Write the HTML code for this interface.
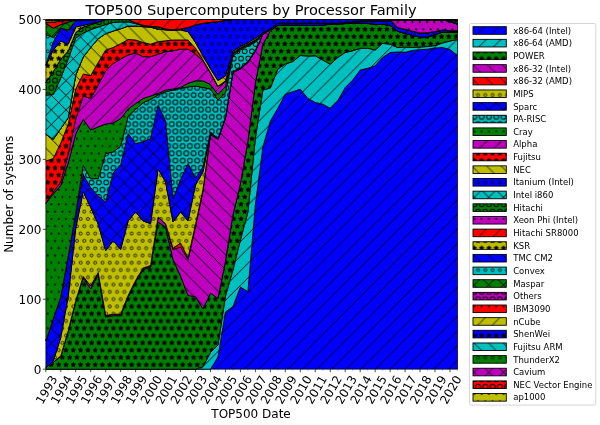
<!DOCTYPE html>
<html><head><meta charset="utf-8"><title>TOP500 Supercomputers by Processor Family</title>
<style>html,body{margin:0;padding:0;background:#fff}svg{display:block}text{font-family:"DejaVu Sans","Liberation Sans",sans-serif;fill:#000}</style></head><body>
<svg width="600" height="425" viewBox="0 0 600 425">
<rect width="600" height="425" fill="#fff"/>
<defs>
<pattern id="h_ne" patternUnits="userSpaceOnUse" x="0.30" y="0.50" width="43.750" height="43.750"><path d="M-9.58 -5.00 L-63.33 48.75" stroke="#000" stroke-width="0.90" fill="none"/><path d="M5.00 -5.00 L-48.75 48.75" stroke="#000" stroke-width="0.90" fill="none"/><path d="M19.58 -5.00 L-34.17 48.75" stroke="#000" stroke-width="0.90" fill="none"/><path d="M34.17 -5.00 L-19.58 48.75" stroke="#000" stroke-width="0.90" fill="none"/><path d="M48.75 -5.00 L-5.00 48.75" stroke="#000" stroke-width="0.90" fill="none"/><path d="M63.33 -5.00 L9.58 48.75" stroke="#000" stroke-width="0.90" fill="none"/><path d="M77.92 -5.00 L24.17 48.75" stroke="#000" stroke-width="0.90" fill="none"/><path d="M92.50 -5.00 L38.75 48.75" stroke="#000" stroke-width="0.90" fill="none"/><path d="M107.08 -5.00 L53.33 48.75" stroke="#000" stroke-width="0.90" fill="none"/></pattern>
<pattern id="h_se" patternUnits="userSpaceOnUse" x="0.30" y="0.50" width="43.750" height="43.750"><path d="M-63.33 -5.00 L-9.58 48.75" stroke="#000" stroke-width="0.90" fill="none"/><path d="M-48.75 -5.00 L5.00 48.75" stroke="#000" stroke-width="0.90" fill="none"/><path d="M-34.17 -5.00 L19.58 48.75" stroke="#000" stroke-width="0.90" fill="none"/><path d="M-19.58 -5.00 L34.17 48.75" stroke="#000" stroke-width="0.90" fill="none"/><path d="M-5.00 -5.00 L48.75 48.75" stroke="#000" stroke-width="0.90" fill="none"/><path d="M9.58 -5.00 L63.33 48.75" stroke="#000" stroke-width="0.90" fill="none"/><path d="M24.17 -5.00 L77.92 48.75" stroke="#000" stroke-width="0.90" fill="none"/><path d="M38.75 -5.00 L92.50 48.75" stroke="#000" stroke-width="0.90" fill="none"/><path d="M53.33 -5.00 L107.08 48.75" stroke="#000" stroke-width="0.90" fill="none"/></pattern>
<pattern id="h_st" patternUnits="userSpaceOnUse" x="0.40" y="0.20" width="43.750" height="43.750"><path d="M0.00 41.32L-0.71 42.77L-2.31 43.00L-1.16 44.13L-1.43 45.72L-0.00 44.97L1.43 45.72L1.16 44.13L2.31 43.00L0.71 42.77Z" fill="#000" stroke="#000" stroke-width="0.75"/><path d="M7.29 41.32L6.58 42.77L4.98 43.00L6.14 44.13L5.86 45.72L7.29 44.97L8.72 45.72L8.45 44.13L9.60 43.00L8.01 42.77Z" fill="#000" stroke="#000" stroke-width="0.75"/><path d="M14.58 41.32L13.87 42.77L12.27 43.00L13.43 44.13L13.15 45.72L14.58 44.97L16.01 45.72L15.74 44.13L16.89 43.00L15.30 42.77Z" fill="#000" stroke="#000" stroke-width="0.75"/><path d="M21.88 41.32L21.16 42.77L19.56 43.00L20.72 44.13L20.45 45.72L21.88 44.97L23.30 45.72L23.03 44.13L24.19 43.00L22.59 42.77Z" fill="#000" stroke="#000" stroke-width="0.75"/><path d="M29.17 41.32L28.45 42.77L26.86 43.00L28.01 44.13L27.74 45.72L29.17 44.97L30.60 45.72L30.32 44.13L31.48 43.00L29.88 42.77Z" fill="#000" stroke="#000" stroke-width="0.75"/><path d="M36.46 41.32L35.74 42.77L34.15 43.00L35.30 44.13L35.03 45.72L36.46 44.97L37.89 45.72L37.61 44.13L38.77 43.00L37.17 42.77Z" fill="#000" stroke="#000" stroke-width="0.75"/><path d="M43.75 41.32L43.04 42.77L41.44 43.00L42.59 44.13L42.32 45.72L43.75 44.97L45.18 45.72L44.91 44.13L46.06 43.00L44.46 42.77Z" fill="#000" stroke="#000" stroke-width="0.75"/><path d="M3.65 34.03L2.93 35.48L1.33 35.71L2.49 36.83L2.22 38.42L3.65 37.67L5.07 38.42L4.80 36.83L5.96 35.71L4.36 35.48Z" fill="#000" stroke="#000" stroke-width="0.75"/><path d="M10.94 34.03L10.22 35.48L8.63 35.71L9.78 36.83L9.51 38.42L10.94 37.67L12.37 38.42L12.09 36.83L13.25 35.71L11.65 35.48Z" fill="#000" stroke="#000" stroke-width="0.75"/><path d="M18.23 34.03L17.51 35.48L15.92 35.71L17.07 36.83L16.80 38.42L18.23 37.67L19.66 38.42L19.38 36.83L20.54 35.71L18.94 35.48Z" fill="#000" stroke="#000" stroke-width="0.75"/><path d="M25.52 34.03L24.81 35.48L23.21 35.71L24.37 36.83L24.09 38.42L25.52 37.67L26.95 38.42L26.68 36.83L27.83 35.71L26.24 35.48Z" fill="#000" stroke="#000" stroke-width="0.75"/><path d="M32.81 34.03L32.10 35.48L30.50 35.71L31.66 36.83L31.38 38.42L32.81 37.67L34.24 38.42L33.97 36.83L35.12 35.71L33.53 35.48Z" fill="#000" stroke="#000" stroke-width="0.75"/><path d="M40.10 34.03L39.39 35.48L37.79 35.71L38.95 36.83L38.68 38.42L40.10 37.67L41.53 38.42L41.26 36.83L42.42 35.71L40.82 35.48Z" fill="#000" stroke="#000" stroke-width="0.75"/><path d="M0.00 26.74L-0.71 28.18L-2.31 28.42L-1.16 29.54L-1.43 31.13L-0.00 30.38L1.43 31.13L1.16 29.54L2.31 28.42L0.71 28.18Z" fill="#000" stroke="#000" stroke-width="0.75"/><path d="M7.29 26.74L6.58 28.18L4.98 28.42L6.14 29.54L5.86 31.13L7.29 30.38L8.72 31.13L8.45 29.54L9.60 28.42L8.01 28.18Z" fill="#000" stroke="#000" stroke-width="0.75"/><path d="M14.58 26.74L13.87 28.18L12.27 28.42L13.43 29.54L13.15 31.13L14.58 30.38L16.01 31.13L15.74 29.54L16.89 28.42L15.30 28.18Z" fill="#000" stroke="#000" stroke-width="0.75"/><path d="M21.88 26.74L21.16 28.18L19.56 28.42L20.72 29.54L20.45 31.13L21.88 30.38L23.30 31.13L23.03 29.54L24.19 28.42L22.59 28.18Z" fill="#000" stroke="#000" stroke-width="0.75"/><path d="M29.17 26.74L28.45 28.18L26.86 28.42L28.01 29.54L27.74 31.13L29.17 30.38L30.60 31.13L30.32 29.54L31.48 28.42L29.88 28.18Z" fill="#000" stroke="#000" stroke-width="0.75"/><path d="M36.46 26.74L35.74 28.18L34.15 28.42L35.30 29.54L35.03 31.13L36.46 30.38L37.89 31.13L37.61 29.54L38.77 28.42L37.17 28.18Z" fill="#000" stroke="#000" stroke-width="0.75"/><path d="M43.75 26.74L43.04 28.18L41.44 28.42L42.59 29.54L42.32 31.13L43.75 30.38L45.18 31.13L44.91 29.54L46.06 28.42L44.46 28.18Z" fill="#000" stroke="#000" stroke-width="0.75"/><path d="M3.65 19.44L2.93 20.89L1.33 21.12L2.49 22.25L2.22 23.84L3.65 23.09L5.07 23.84L4.80 22.25L5.96 21.12L4.36 20.89Z" fill="#000" stroke="#000" stroke-width="0.75"/><path d="M10.94 19.44L10.22 20.89L8.63 21.12L9.78 22.25L9.51 23.84L10.94 23.09L12.37 23.84L12.09 22.25L13.25 21.12L11.65 20.89Z" fill="#000" stroke="#000" stroke-width="0.75"/><path d="M18.23 19.44L17.51 20.89L15.92 21.12L17.07 22.25L16.80 23.84L18.23 23.09L19.66 23.84L19.38 22.25L20.54 21.12L18.94 20.89Z" fill="#000" stroke="#000" stroke-width="0.75"/><path d="M25.52 19.44L24.81 20.89L23.21 21.12L24.37 22.25L24.09 23.84L25.52 23.09L26.95 23.84L26.68 22.25L27.83 21.12L26.24 20.89Z" fill="#000" stroke="#000" stroke-width="0.75"/><path d="M32.81 19.44L32.10 20.89L30.50 21.12L31.66 22.25L31.38 23.84L32.81 23.09L34.24 23.84L33.97 22.25L35.12 21.12L33.53 20.89Z" fill="#000" stroke="#000" stroke-width="0.75"/><path d="M40.10 19.44L39.39 20.89L37.79 21.12L38.95 22.25L38.68 23.84L40.10 23.09L41.53 23.84L41.26 22.25L42.42 21.12L40.82 20.89Z" fill="#000" stroke="#000" stroke-width="0.75"/><path d="M0.00 12.15L-0.71 13.60L-2.31 13.83L-1.16 14.96L-1.43 16.55L-0.00 15.80L1.43 16.55L1.16 14.96L2.31 13.83L0.71 13.60Z" fill="#000" stroke="#000" stroke-width="0.75"/><path d="M7.29 12.15L6.58 13.60L4.98 13.83L6.14 14.96L5.86 16.55L7.29 15.80L8.72 16.55L8.45 14.96L9.60 13.83L8.01 13.60Z" fill="#000" stroke="#000" stroke-width="0.75"/><path d="M14.58 12.15L13.87 13.60L12.27 13.83L13.43 14.96L13.15 16.55L14.58 15.80L16.01 16.55L15.74 14.96L16.89 13.83L15.30 13.60Z" fill="#000" stroke="#000" stroke-width="0.75"/><path d="M21.88 12.15L21.16 13.60L19.56 13.83L20.72 14.96L20.45 16.55L21.88 15.80L23.30 16.55L23.03 14.96L24.19 13.83L22.59 13.60Z" fill="#000" stroke="#000" stroke-width="0.75"/><path d="M29.17 12.15L28.45 13.60L26.86 13.83L28.01 14.96L27.74 16.55L29.17 15.80L30.60 16.55L30.32 14.96L31.48 13.83L29.88 13.60Z" fill="#000" stroke="#000" stroke-width="0.75"/><path d="M36.46 12.15L35.74 13.60L34.15 13.83L35.30 14.96L35.03 16.55L36.46 15.80L37.89 16.55L37.61 14.96L38.77 13.83L37.17 13.60Z" fill="#000" stroke="#000" stroke-width="0.75"/><path d="M43.75 12.15L43.04 13.60L41.44 13.83L42.59 14.96L42.32 16.55L43.75 15.80L45.18 16.55L44.91 14.96L46.06 13.83L44.46 13.60Z" fill="#000" stroke="#000" stroke-width="0.75"/><path d="M3.65 4.86L2.93 6.31L1.33 6.54L2.49 7.67L2.22 9.26L3.65 8.51L5.07 9.26L4.80 7.67L5.96 6.54L4.36 6.31Z" fill="#000" stroke="#000" stroke-width="0.75"/><path d="M10.94 4.86L10.22 6.31L8.63 6.54L9.78 7.67L9.51 9.26L10.94 8.51L12.37 9.26L12.09 7.67L13.25 6.54L11.65 6.31Z" fill="#000" stroke="#000" stroke-width="0.75"/><path d="M18.23 4.86L17.51 6.31L15.92 6.54L17.07 7.67L16.80 9.26L18.23 8.51L19.66 9.26L19.38 7.67L20.54 6.54L18.94 6.31Z" fill="#000" stroke="#000" stroke-width="0.75"/><path d="M25.52 4.86L24.81 6.31L23.21 6.54L24.37 7.67L24.09 9.26L25.52 8.51L26.95 9.26L26.68 7.67L27.83 6.54L26.24 6.31Z" fill="#000" stroke="#000" stroke-width="0.75"/><path d="M32.81 4.86L32.10 6.31L30.50 6.54L31.66 7.67L31.38 9.26L32.81 8.51L34.24 9.26L33.97 7.67L35.12 6.54L33.53 6.31Z" fill="#000" stroke="#000" stroke-width="0.75"/><path d="M40.10 4.86L39.39 6.31L37.79 6.54L38.95 7.67L38.68 9.26L40.10 8.51L41.53 9.26L41.26 7.67L42.42 6.54L40.82 6.31Z" fill="#000" stroke="#000" stroke-width="0.75"/><path d="M0.00 -2.43L-0.71 -0.98L-2.31 -0.75L-1.16 0.38L-1.43 1.97L-0.00 1.22L1.43 1.97L1.16 0.38L2.31 -0.75L0.71 -0.98Z" fill="#000" stroke="#000" stroke-width="0.75"/><path d="M7.29 -2.43L6.58 -0.98L4.98 -0.75L6.14 0.38L5.86 1.97L7.29 1.22L8.72 1.97L8.45 0.38L9.60 -0.75L8.01 -0.98Z" fill="#000" stroke="#000" stroke-width="0.75"/><path d="M14.58 -2.43L13.87 -0.98L12.27 -0.75L13.43 0.38L13.15 1.97L14.58 1.22L16.01 1.97L15.74 0.38L16.89 -0.75L15.30 -0.98Z" fill="#000" stroke="#000" stroke-width="0.75"/><path d="M21.88 -2.43L21.16 -0.98L19.56 -0.75L20.72 0.38L20.45 1.97L21.88 1.22L23.30 1.97L23.03 0.38L24.19 -0.75L22.59 -0.98Z" fill="#000" stroke="#000" stroke-width="0.75"/><path d="M29.17 -2.43L28.45 -0.98L26.86 -0.75L28.01 0.38L27.74 1.97L29.17 1.22L30.60 1.97L30.32 0.38L31.48 -0.75L29.88 -0.98Z" fill="#000" stroke="#000" stroke-width="0.75"/><path d="M36.46 -2.43L35.74 -0.98L34.15 -0.75L35.30 0.38L35.03 1.97L36.46 1.22L37.89 1.97L37.61 0.38L38.77 -0.75L37.17 -0.98Z" fill="#000" stroke="#000" stroke-width="0.75"/><path d="M43.75 -2.43L43.04 -0.98L41.44 -0.75L42.59 0.38L42.32 1.97L43.75 1.22L45.18 1.97L44.91 0.38L46.06 -0.75L44.46 -0.98Z" fill="#000" stroke="#000" stroke-width="0.75"/></pattern>
<pattern id="h_so" patternUnits="userSpaceOnUse" x="0.40" y="0.20" width="43.750" height="43.750"><circle cx="0.00" cy="43.75" r="1.50" fill="none" stroke="#000" stroke-width="0.80"/><circle cx="7.29" cy="43.75" r="1.50" fill="none" stroke="#000" stroke-width="0.80"/><circle cx="14.58" cy="43.75" r="1.50" fill="none" stroke="#000" stroke-width="0.80"/><circle cx="21.88" cy="43.75" r="1.50" fill="none" stroke="#000" stroke-width="0.80"/><circle cx="29.17" cy="43.75" r="1.50" fill="none" stroke="#000" stroke-width="0.80"/><circle cx="36.46" cy="43.75" r="1.50" fill="none" stroke="#000" stroke-width="0.80"/><circle cx="43.75" cy="43.75" r="1.50" fill="none" stroke="#000" stroke-width="0.80"/><circle cx="3.65" cy="36.46" r="1.50" fill="none" stroke="#000" stroke-width="0.80"/><circle cx="10.94" cy="36.46" r="1.50" fill="none" stroke="#000" stroke-width="0.80"/><circle cx="18.23" cy="36.46" r="1.50" fill="none" stroke="#000" stroke-width="0.80"/><circle cx="25.52" cy="36.46" r="1.50" fill="none" stroke="#000" stroke-width="0.80"/><circle cx="32.81" cy="36.46" r="1.50" fill="none" stroke="#000" stroke-width="0.80"/><circle cx="40.10" cy="36.46" r="1.50" fill="none" stroke="#000" stroke-width="0.80"/><circle cx="0.00" cy="29.17" r="1.50" fill="none" stroke="#000" stroke-width="0.80"/><circle cx="7.29" cy="29.17" r="1.50" fill="none" stroke="#000" stroke-width="0.80"/><circle cx="14.58" cy="29.17" r="1.50" fill="none" stroke="#000" stroke-width="0.80"/><circle cx="21.88" cy="29.17" r="1.50" fill="none" stroke="#000" stroke-width="0.80"/><circle cx="29.17" cy="29.17" r="1.50" fill="none" stroke="#000" stroke-width="0.80"/><circle cx="36.46" cy="29.17" r="1.50" fill="none" stroke="#000" stroke-width="0.80"/><circle cx="43.75" cy="29.17" r="1.50" fill="none" stroke="#000" stroke-width="0.80"/><circle cx="3.65" cy="21.88" r="1.50" fill="none" stroke="#000" stroke-width="0.80"/><circle cx="10.94" cy="21.88" r="1.50" fill="none" stroke="#000" stroke-width="0.80"/><circle cx="18.23" cy="21.88" r="1.50" fill="none" stroke="#000" stroke-width="0.80"/><circle cx="25.52" cy="21.88" r="1.50" fill="none" stroke="#000" stroke-width="0.80"/><circle cx="32.81" cy="21.88" r="1.50" fill="none" stroke="#000" stroke-width="0.80"/><circle cx="40.10" cy="21.88" r="1.50" fill="none" stroke="#000" stroke-width="0.80"/><circle cx="0.00" cy="14.58" r="1.50" fill="none" stroke="#000" stroke-width="0.80"/><circle cx="7.29" cy="14.58" r="1.50" fill="none" stroke="#000" stroke-width="0.80"/><circle cx="14.58" cy="14.58" r="1.50" fill="none" stroke="#000" stroke-width="0.80"/><circle cx="21.88" cy="14.58" r="1.50" fill="none" stroke="#000" stroke-width="0.80"/><circle cx="29.17" cy="14.58" r="1.50" fill="none" stroke="#000" stroke-width="0.80"/><circle cx="36.46" cy="14.58" r="1.50" fill="none" stroke="#000" stroke-width="0.80"/><circle cx="43.75" cy="14.58" r="1.50" fill="none" stroke="#000" stroke-width="0.80"/><circle cx="3.65" cy="7.29" r="1.50" fill="none" stroke="#000" stroke-width="0.80"/><circle cx="10.94" cy="7.29" r="1.50" fill="none" stroke="#000" stroke-width="0.80"/><circle cx="18.23" cy="7.29" r="1.50" fill="none" stroke="#000" stroke-width="0.80"/><circle cx="25.52" cy="7.29" r="1.50" fill="none" stroke="#000" stroke-width="0.80"/><circle cx="32.81" cy="7.29" r="1.50" fill="none" stroke="#000" stroke-width="0.80"/><circle cx="40.10" cy="7.29" r="1.50" fill="none" stroke="#000" stroke-width="0.80"/><circle cx="0.00" cy="0.00" r="1.50" fill="none" stroke="#000" stroke-width="0.80"/><circle cx="7.29" cy="0.00" r="1.50" fill="none" stroke="#000" stroke-width="0.80"/><circle cx="14.58" cy="0.00" r="1.50" fill="none" stroke="#000" stroke-width="0.80"/><circle cx="21.88" cy="0.00" r="1.50" fill="none" stroke="#000" stroke-width="0.80"/><circle cx="29.17" cy="0.00" r="1.50" fill="none" stroke="#000" stroke-width="0.80"/><circle cx="36.46" cy="0.00" r="1.50" fill="none" stroke="#000" stroke-width="0.80"/><circle cx="43.75" cy="0.00" r="1.50" fill="none" stroke="#000" stroke-width="0.80"/></pattern>
<pattern id="h_xx" patternUnits="userSpaceOnUse" x="0.30" y="0.50" width="43.750" height="43.750"><path d="M-9.58 -5.00 L-63.33 48.75" stroke="#000" stroke-width="0.90" fill="none"/><path d="M5.00 -5.00 L-48.75 48.75" stroke="#000" stroke-width="0.90" fill="none"/><path d="M19.58 -5.00 L-34.17 48.75" stroke="#000" stroke-width="0.90" fill="none"/><path d="M34.17 -5.00 L-19.58 48.75" stroke="#000" stroke-width="0.90" fill="none"/><path d="M48.75 -5.00 L-5.00 48.75" stroke="#000" stroke-width="0.90" fill="none"/><path d="M63.33 -5.00 L9.58 48.75" stroke="#000" stroke-width="0.90" fill="none"/><path d="M77.92 -5.00 L24.17 48.75" stroke="#000" stroke-width="0.90" fill="none"/><path d="M92.50 -5.00 L38.75 48.75" stroke="#000" stroke-width="0.90" fill="none"/><path d="M107.08 -5.00 L53.33 48.75" stroke="#000" stroke-width="0.90" fill="none"/><path d="M-63.33 -5.00 L-9.58 48.75" stroke="#000" stroke-width="0.90" fill="none"/><path d="M-48.75 -5.00 L5.00 48.75" stroke="#000" stroke-width="0.90" fill="none"/><path d="M-34.17 -5.00 L19.58 48.75" stroke="#000" stroke-width="0.90" fill="none"/><path d="M-19.58 -5.00 L34.17 48.75" stroke="#000" stroke-width="0.90" fill="none"/><path d="M-5.00 -5.00 L48.75 48.75" stroke="#000" stroke-width="0.90" fill="none"/><path d="M9.58 -5.00 L63.33 48.75" stroke="#000" stroke-width="0.90" fill="none"/><path d="M24.17 -5.00 L77.92 48.75" stroke="#000" stroke-width="0.90" fill="none"/><path d="M38.75 -5.00 L92.50 48.75" stroke="#000" stroke-width="0.90" fill="none"/><path d="M53.33 -5.00 L107.08 48.75" stroke="#000" stroke-width="0.90" fill="none"/></pattern>
<pattern id="h_lo" patternUnits="userSpaceOnUse" x="0.40" y="0.20" width="43.750" height="43.750"><circle cx="0.00" cy="43.75" r="2.42" fill="none" stroke="#000" stroke-width="1.00"/><circle cx="7.29" cy="43.75" r="2.42" fill="none" stroke="#000" stroke-width="1.00"/><circle cx="14.58" cy="43.75" r="2.42" fill="none" stroke="#000" stroke-width="1.00"/><circle cx="21.88" cy="43.75" r="2.42" fill="none" stroke="#000" stroke-width="1.00"/><circle cx="29.17" cy="43.75" r="2.42" fill="none" stroke="#000" stroke-width="1.00"/><circle cx="36.46" cy="43.75" r="2.42" fill="none" stroke="#000" stroke-width="1.00"/><circle cx="43.75" cy="43.75" r="2.42" fill="none" stroke="#000" stroke-width="1.00"/><circle cx="3.65" cy="36.46" r="2.42" fill="none" stroke="#000" stroke-width="1.00"/><circle cx="10.94" cy="36.46" r="2.42" fill="none" stroke="#000" stroke-width="1.00"/><circle cx="18.23" cy="36.46" r="2.42" fill="none" stroke="#000" stroke-width="1.00"/><circle cx="25.52" cy="36.46" r="2.42" fill="none" stroke="#000" stroke-width="1.00"/><circle cx="32.81" cy="36.46" r="2.42" fill="none" stroke="#000" stroke-width="1.00"/><circle cx="40.10" cy="36.46" r="2.42" fill="none" stroke="#000" stroke-width="1.00"/><circle cx="0.00" cy="29.17" r="2.42" fill="none" stroke="#000" stroke-width="1.00"/><circle cx="7.29" cy="29.17" r="2.42" fill="none" stroke="#000" stroke-width="1.00"/><circle cx="14.58" cy="29.17" r="2.42" fill="none" stroke="#000" stroke-width="1.00"/><circle cx="21.88" cy="29.17" r="2.42" fill="none" stroke="#000" stroke-width="1.00"/><circle cx="29.17" cy="29.17" r="2.42" fill="none" stroke="#000" stroke-width="1.00"/><circle cx="36.46" cy="29.17" r="2.42" fill="none" stroke="#000" stroke-width="1.00"/><circle cx="43.75" cy="29.17" r="2.42" fill="none" stroke="#000" stroke-width="1.00"/><circle cx="3.65" cy="21.88" r="2.42" fill="none" stroke="#000" stroke-width="1.00"/><circle cx="10.94" cy="21.88" r="2.42" fill="none" stroke="#000" stroke-width="1.00"/><circle cx="18.23" cy="21.88" r="2.42" fill="none" stroke="#000" stroke-width="1.00"/><circle cx="25.52" cy="21.88" r="2.42" fill="none" stroke="#000" stroke-width="1.00"/><circle cx="32.81" cy="21.88" r="2.42" fill="none" stroke="#000" stroke-width="1.00"/><circle cx="40.10" cy="21.88" r="2.42" fill="none" stroke="#000" stroke-width="1.00"/><circle cx="0.00" cy="14.58" r="2.42" fill="none" stroke="#000" stroke-width="1.00"/><circle cx="7.29" cy="14.58" r="2.42" fill="none" stroke="#000" stroke-width="1.00"/><circle cx="14.58" cy="14.58" r="2.42" fill="none" stroke="#000" stroke-width="1.00"/><circle cx="21.88" cy="14.58" r="2.42" fill="none" stroke="#000" stroke-width="1.00"/><circle cx="29.17" cy="14.58" r="2.42" fill="none" stroke="#000" stroke-width="1.00"/><circle cx="36.46" cy="14.58" r="2.42" fill="none" stroke="#000" stroke-width="1.00"/><circle cx="43.75" cy="14.58" r="2.42" fill="none" stroke="#000" stroke-width="1.00"/><circle cx="3.65" cy="7.29" r="2.42" fill="none" stroke="#000" stroke-width="1.00"/><circle cx="10.94" cy="7.29" r="2.42" fill="none" stroke="#000" stroke-width="1.00"/><circle cx="18.23" cy="7.29" r="2.42" fill="none" stroke="#000" stroke-width="1.00"/><circle cx="25.52" cy="7.29" r="2.42" fill="none" stroke="#000" stroke-width="1.00"/><circle cx="32.81" cy="7.29" r="2.42" fill="none" stroke="#000" stroke-width="1.00"/><circle cx="40.10" cy="7.29" r="2.42" fill="none" stroke="#000" stroke-width="1.00"/><circle cx="0.00" cy="0.00" r="2.42" fill="none" stroke="#000" stroke-width="1.00"/><circle cx="7.29" cy="0.00" r="2.42" fill="none" stroke="#000" stroke-width="1.00"/><circle cx="14.58" cy="0.00" r="2.42" fill="none" stroke="#000" stroke-width="1.00"/><circle cx="21.88" cy="0.00" r="2.42" fill="none" stroke="#000" stroke-width="1.00"/><circle cx="29.17" cy="0.00" r="2.42" fill="none" stroke="#000" stroke-width="1.00"/><circle cx="36.46" cy="0.00" r="2.42" fill="none" stroke="#000" stroke-width="1.00"/><circle cx="43.75" cy="0.00" r="2.42" fill="none" stroke="#000" stroke-width="1.00"/></pattern>
<pattern id="h_dt" patternUnits="userSpaceOnUse" x="0.40" y="0.20" width="43.750" height="43.750"><circle cx="0.00" cy="43.75" r="0.73" fill="#000" stroke="#000" stroke-width="0.60"/><circle cx="7.29" cy="43.75" r="0.73" fill="#000" stroke="#000" stroke-width="0.60"/><circle cx="14.58" cy="43.75" r="0.73" fill="#000" stroke="#000" stroke-width="0.60"/><circle cx="21.88" cy="43.75" r="0.73" fill="#000" stroke="#000" stroke-width="0.60"/><circle cx="29.17" cy="43.75" r="0.73" fill="#000" stroke="#000" stroke-width="0.60"/><circle cx="36.46" cy="43.75" r="0.73" fill="#000" stroke="#000" stroke-width="0.60"/><circle cx="43.75" cy="43.75" r="0.73" fill="#000" stroke="#000" stroke-width="0.60"/><circle cx="3.65" cy="36.46" r="0.73" fill="#000" stroke="#000" stroke-width="0.60"/><circle cx="10.94" cy="36.46" r="0.73" fill="#000" stroke="#000" stroke-width="0.60"/><circle cx="18.23" cy="36.46" r="0.73" fill="#000" stroke="#000" stroke-width="0.60"/><circle cx="25.52" cy="36.46" r="0.73" fill="#000" stroke="#000" stroke-width="0.60"/><circle cx="32.81" cy="36.46" r="0.73" fill="#000" stroke="#000" stroke-width="0.60"/><circle cx="40.10" cy="36.46" r="0.73" fill="#000" stroke="#000" stroke-width="0.60"/><circle cx="0.00" cy="29.17" r="0.73" fill="#000" stroke="#000" stroke-width="0.60"/><circle cx="7.29" cy="29.17" r="0.73" fill="#000" stroke="#000" stroke-width="0.60"/><circle cx="14.58" cy="29.17" r="0.73" fill="#000" stroke="#000" stroke-width="0.60"/><circle cx="21.88" cy="29.17" r="0.73" fill="#000" stroke="#000" stroke-width="0.60"/><circle cx="29.17" cy="29.17" r="0.73" fill="#000" stroke="#000" stroke-width="0.60"/><circle cx="36.46" cy="29.17" r="0.73" fill="#000" stroke="#000" stroke-width="0.60"/><circle cx="43.75" cy="29.17" r="0.73" fill="#000" stroke="#000" stroke-width="0.60"/><circle cx="3.65" cy="21.88" r="0.73" fill="#000" stroke="#000" stroke-width="0.60"/><circle cx="10.94" cy="21.88" r="0.73" fill="#000" stroke="#000" stroke-width="0.60"/><circle cx="18.23" cy="21.88" r="0.73" fill="#000" stroke="#000" stroke-width="0.60"/><circle cx="25.52" cy="21.88" r="0.73" fill="#000" stroke="#000" stroke-width="0.60"/><circle cx="32.81" cy="21.88" r="0.73" fill="#000" stroke="#000" stroke-width="0.60"/><circle cx="40.10" cy="21.88" r="0.73" fill="#000" stroke="#000" stroke-width="0.60"/><circle cx="0.00" cy="14.58" r="0.73" fill="#000" stroke="#000" stroke-width="0.60"/><circle cx="7.29" cy="14.58" r="0.73" fill="#000" stroke="#000" stroke-width="0.60"/><circle cx="14.58" cy="14.58" r="0.73" fill="#000" stroke="#000" stroke-width="0.60"/><circle cx="21.88" cy="14.58" r="0.73" fill="#000" stroke="#000" stroke-width="0.60"/><circle cx="29.17" cy="14.58" r="0.73" fill="#000" stroke="#000" stroke-width="0.60"/><circle cx="36.46" cy="14.58" r="0.73" fill="#000" stroke="#000" stroke-width="0.60"/><circle cx="43.75" cy="14.58" r="0.73" fill="#000" stroke="#000" stroke-width="0.60"/><circle cx="3.65" cy="7.29" r="0.73" fill="#000" stroke="#000" stroke-width="0.60"/><circle cx="10.94" cy="7.29" r="0.73" fill="#000" stroke="#000" stroke-width="0.60"/><circle cx="18.23" cy="7.29" r="0.73" fill="#000" stroke="#000" stroke-width="0.60"/><circle cx="25.52" cy="7.29" r="0.73" fill="#000" stroke="#000" stroke-width="0.60"/><circle cx="32.81" cy="7.29" r="0.73" fill="#000" stroke="#000" stroke-width="0.60"/><circle cx="40.10" cy="7.29" r="0.73" fill="#000" stroke="#000" stroke-width="0.60"/><circle cx="0.00" cy="0.00" r="0.73" fill="#000" stroke="#000" stroke-width="0.60"/><circle cx="7.29" cy="0.00" r="0.73" fill="#000" stroke="#000" stroke-width="0.60"/><circle cx="14.58" cy="0.00" r="0.73" fill="#000" stroke="#000" stroke-width="0.60"/><circle cx="21.88" cy="0.00" r="0.73" fill="#000" stroke="#000" stroke-width="0.60"/><circle cx="29.17" cy="0.00" r="0.73" fill="#000" stroke="#000" stroke-width="0.60"/><circle cx="36.46" cy="0.00" r="0.73" fill="#000" stroke="#000" stroke-width="0.60"/><circle cx="43.75" cy="0.00" r="0.73" fill="#000" stroke="#000" stroke-width="0.60"/></pattern>
<clipPath id="ax"><rect x="45.30" y="18.90" width="412.55" height="350.80"/></clipPath>
</defs>
<g clip-path="url(#ax)" stroke-linejoin="round">
<path d="M45.80 369.20L53.29 369.20L60.77 369.20L68.26 369.20L75.74 369.20L83.23 369.20L90.71 369.20L98.20 369.20L105.68 369.20L113.17 369.20L120.65 369.20L128.14 369.20L135.63 369.20L143.11 369.20L150.60 369.20L158.08 369.20L165.57 369.20L173.05 369.20L180.54 369.20L188.02 369.20L195.51 369.20L202.99 369.20L210.48 369.20L217.97 357.00L225.45 312.00L232.94 306.50L240.42 287.10L247.91 291.50L255.39 204.50L262.88 147.00L270.36 121.00L277.85 108.30L285.33 94.20L292.82 91.70L300.31 89.20L307.79 98.30L315.28 102.50L322.76 104.20L330.25 108.30L337.73 100.80L345.22 87.50L352.70 80.00L360.19 70.00L367.67 68.30L375.16 65.80L382.65 57.50L390.13 52.50L397.62 52.00L405.10 52.30L412.59 50.40L420.07 49.70L427.56 49.20L435.04 48.00L442.53 47.50L450.01 49.50L457.50 55.50L457.50 369.20L450.01 369.20L442.53 369.20L435.04 369.20L427.56 369.20L420.07 369.20L412.59 369.20L405.10 369.20L397.62 369.20L390.13 369.20L382.65 369.20L375.16 369.20L367.67 369.20L360.19 369.20L352.70 369.20L345.22 369.20L337.73 369.20L330.25 369.20L322.76 369.20L315.28 369.20L307.79 369.20L300.31 369.20L292.82 369.20L285.33 369.20L277.85 369.20L270.36 369.20L262.88 369.20L255.39 369.20L247.91 369.20L240.42 369.20L232.94 369.20L225.45 369.20L217.97 369.20L210.48 369.20L202.99 369.20L195.51 369.20L188.02 369.20L180.54 369.20L173.05 369.20L165.57 369.20L158.08 369.20L150.60 369.20L143.11 369.20L135.63 369.20L128.14 369.20L120.65 369.20L113.17 369.20L105.68 369.20L98.20 369.20L90.71 369.20L83.23 369.20L75.74 369.20L68.26 369.20L60.77 369.20L53.29 369.20L45.80 369.20Z" fill="#0000ff" stroke="none"/>
<path d="M45.80 369.20L53.29 369.20L60.77 369.20L68.26 369.20L75.74 369.20L83.23 369.20L90.71 369.20L98.20 369.20L105.68 369.20L113.17 369.20L120.65 369.20L128.14 369.20L135.63 369.20L143.11 369.20L150.60 369.20L158.08 369.20L165.57 369.20L173.05 369.20L180.54 369.20L188.02 369.20L195.51 369.20L202.99 369.20L210.48 369.20L217.97 357.00L225.45 312.00L232.94 306.50L240.42 287.10L247.91 291.50L255.39 204.50L262.88 147.00L270.36 121.00L277.85 108.30L285.33 94.20L292.82 91.70L300.31 89.20L307.79 98.30L315.28 102.50L322.76 104.20L330.25 108.30L337.73 100.80L345.22 87.50L352.70 80.00L360.19 70.00L367.67 68.30L375.16 65.80L382.65 57.50L390.13 52.50L397.62 52.00L405.10 52.30L412.59 50.40L420.07 49.70L427.56 49.20L435.04 48.00L442.53 47.50L450.01 49.50L457.50 55.50L457.50 369.20L450.01 369.20L442.53 369.20L435.04 369.20L427.56 369.20L420.07 369.20L412.59 369.20L405.10 369.20L397.62 369.20L390.13 369.20L382.65 369.20L375.16 369.20L367.67 369.20L360.19 369.20L352.70 369.20L345.22 369.20L337.73 369.20L330.25 369.20L322.76 369.20L315.28 369.20L307.79 369.20L300.31 369.20L292.82 369.20L285.33 369.20L277.85 369.20L270.36 369.20L262.88 369.20L255.39 369.20L247.91 369.20L240.42 369.20L232.94 369.20L225.45 369.20L217.97 369.20L210.48 369.20L202.99 369.20L195.51 369.20L188.02 369.20L180.54 369.20L173.05 369.20L165.57 369.20L158.08 369.20L150.60 369.20L143.11 369.20L135.63 369.20L128.14 369.20L120.65 369.20L113.17 369.20L105.68 369.20L98.20 369.20L90.71 369.20L83.23 369.20L75.74 369.20L68.26 369.20L60.77 369.20L53.29 369.20L45.80 369.20Z" fill="url(#h_ne)" stroke="#000" stroke-width="0.9"/>
<path d="M45.80 369.20L53.29 369.20L60.77 369.20L68.26 369.20L75.74 369.20L83.23 369.20L90.71 369.20L98.20 369.20L105.68 369.20L113.17 369.20L120.65 369.20L128.14 369.20L135.63 369.20L143.11 369.20L150.60 369.20L158.08 369.20L165.57 369.20L173.05 369.20L180.54 369.20L188.02 369.20L195.51 369.20L202.99 366.60L210.48 352.50L217.97 345.00L225.45 296.20L232.94 270.00L240.42 240.00L247.91 212.00L255.39 138.00L262.88 90.00L270.36 88.00L277.85 69.00L285.33 64.00L292.82 61.50L300.31 55.50L307.79 56.00L315.28 55.80L322.76 60.00L330.25 64.20L337.73 57.50L345.22 52.50L352.70 50.80L360.19 48.30L367.67 48.30L375.16 50.00L382.65 43.30L390.13 44.20L397.62 47.50L405.10 47.00L412.59 47.50L420.07 47.00L427.56 46.50L435.04 45.50L442.53 43.00L450.01 41.00L457.50 39.50L457.50 55.50L450.01 49.50L442.53 47.50L435.04 48.00L427.56 49.20L420.07 49.70L412.59 50.40L405.10 52.30L397.62 52.00L390.13 52.50L382.65 57.50L375.16 65.80L367.67 68.30L360.19 70.00L352.70 80.00L345.22 87.50L337.73 100.80L330.25 108.30L322.76 104.20L315.28 102.50L307.79 98.30L300.31 89.20L292.82 91.70L285.33 94.20L277.85 108.30L270.36 121.00L262.88 147.00L255.39 204.50L247.91 291.50L240.42 287.10L232.94 306.50L225.45 312.00L217.97 357.00L210.48 369.20L202.99 369.20L195.51 369.20L188.02 369.20L180.54 369.20L173.05 369.20L165.57 369.20L158.08 369.20L150.60 369.20L143.11 369.20L135.63 369.20L128.14 369.20L120.65 369.20L113.17 369.20L105.68 369.20L98.20 369.20L90.71 369.20L83.23 369.20L75.74 369.20L68.26 369.20L60.77 369.20L53.29 369.20L45.80 369.20Z" fill="#00bfbf" stroke="none"/>
<path d="M45.80 369.20L53.29 369.20L60.77 369.20L68.26 369.20L75.74 369.20L83.23 369.20L90.71 369.20L98.20 369.20L105.68 369.20L113.17 369.20L120.65 369.20L128.14 369.20L135.63 369.20L143.11 369.20L150.60 369.20L158.08 369.20L165.57 369.20L173.05 369.20L180.54 369.20L188.02 369.20L195.51 369.20L202.99 366.60L210.48 352.50L217.97 345.00L225.45 296.20L232.94 270.00L240.42 240.00L247.91 212.00L255.39 138.00L262.88 90.00L270.36 88.00L277.85 69.00L285.33 64.00L292.82 61.50L300.31 55.50L307.79 56.00L315.28 55.80L322.76 60.00L330.25 64.20L337.73 57.50L345.22 52.50L352.70 50.80L360.19 48.30L367.67 48.30L375.16 50.00L382.65 43.30L390.13 44.20L397.62 47.50L405.10 47.00L412.59 47.50L420.07 47.00L427.56 46.50L435.04 45.50L442.53 43.00L450.01 41.00L457.50 39.50L457.50 55.50L450.01 49.50L442.53 47.50L435.04 48.00L427.56 49.20L420.07 49.70L412.59 50.40L405.10 52.30L397.62 52.00L390.13 52.50L382.65 57.50L375.16 65.80L367.67 68.30L360.19 70.00L352.70 80.00L345.22 87.50L337.73 100.80L330.25 108.30L322.76 104.20L315.28 102.50L307.79 98.30L300.31 89.20L292.82 91.70L285.33 94.20L277.85 108.30L270.36 121.00L262.88 147.00L255.39 204.50L247.91 291.50L240.42 287.10L232.94 306.50L225.45 312.00L217.97 357.00L210.48 369.20L202.99 369.20L195.51 369.20L188.02 369.20L180.54 369.20L173.05 369.20L165.57 369.20L158.08 369.20L150.60 369.20L143.11 369.20L135.63 369.20L128.14 369.20L120.65 369.20L113.17 369.20L105.68 369.20L98.20 369.20L90.71 369.20L83.23 369.20L75.74 369.20L68.26 369.20L60.77 369.20L53.29 369.20L45.80 369.20Z" fill="url(#h_ne)" stroke="#000" stroke-width="0.9"/>
<path d="M45.80 367.50L53.29 362.00L60.77 356.60L68.26 331.50L75.74 301.60L83.23 278.00L90.71 289.00L98.20 274.50L105.68 317.00L113.17 315.70L120.65 315.70L128.14 297.00L135.63 282.00L143.11 269.50L150.60 267.00L158.08 222.00L165.57 227.00L173.05 259.50L180.54 276.00L188.02 295.50L195.51 296.50L202.99 309.00L210.48 293.00L217.97 298.50L225.45 261.00L232.94 215.00L240.42 184.00L247.91 141.00L255.39 83.00L262.88 44.20L270.36 31.00L277.85 25.30L285.33 25.00L292.82 25.00L300.31 25.00L307.79 25.20L315.28 25.30L322.76 25.00L330.25 24.20L337.73 24.00L345.22 23.50L352.70 22.80L360.19 23.00L367.67 23.20L375.16 24.60L382.65 24.20L390.13 25.40L397.62 31.20L405.10 33.30L412.59 35.40L420.07 37.00L427.56 37.00L435.04 34.50L442.53 32.00L450.01 31.80L457.50 32.00L457.50 39.50L450.01 41.00L442.53 43.00L435.04 45.50L427.56 46.50L420.07 47.00L412.59 47.50L405.10 47.00L397.62 47.50L390.13 44.20L382.65 43.30L375.16 50.00L367.67 48.30L360.19 48.30L352.70 50.80L345.22 52.50L337.73 57.50L330.25 64.20L322.76 60.00L315.28 55.80L307.79 56.00L300.31 55.50L292.82 61.50L285.33 64.00L277.85 69.00L270.36 88.00L262.88 90.00L255.39 138.00L247.91 212.00L240.42 240.00L232.94 270.00L225.45 296.20L217.97 345.00L210.48 352.50L202.99 366.60L195.51 369.20L188.02 369.20L180.54 369.20L173.05 369.20L165.57 369.20L158.08 369.20L150.60 369.20L143.11 369.20L135.63 369.20L128.14 369.20L120.65 369.20L113.17 369.20L105.68 369.20L98.20 369.20L90.71 369.20L83.23 369.20L75.74 369.20L68.26 369.20L60.77 369.20L53.29 369.20L45.80 369.20Z" fill="#008000" stroke="none"/>
<path d="M45.80 367.50L53.29 362.00L60.77 356.60L68.26 331.50L75.74 301.60L83.23 278.00L90.71 289.00L98.20 274.50L105.68 317.00L113.17 315.70L120.65 315.70L128.14 297.00L135.63 282.00L143.11 269.50L150.60 267.00L158.08 222.00L165.57 227.00L173.05 259.50L180.54 276.00L188.02 295.50L195.51 296.50L202.99 309.00L210.48 293.00L217.97 298.50L225.45 261.00L232.94 215.00L240.42 184.00L247.91 141.00L255.39 83.00L262.88 44.20L270.36 31.00L277.85 25.30L285.33 25.00L292.82 25.00L300.31 25.00L307.79 25.20L315.28 25.30L322.76 25.00L330.25 24.20L337.73 24.00L345.22 23.50L352.70 22.80L360.19 23.00L367.67 23.20L375.16 24.60L382.65 24.20L390.13 25.40L397.62 31.20L405.10 33.30L412.59 35.40L420.07 37.00L427.56 37.00L435.04 34.50L442.53 32.00L450.01 31.80L457.50 32.00L457.50 39.50L450.01 41.00L442.53 43.00L435.04 45.50L427.56 46.50L420.07 47.00L412.59 47.50L405.10 47.00L397.62 47.50L390.13 44.20L382.65 43.30L375.16 50.00L367.67 48.30L360.19 48.30L352.70 50.80L345.22 52.50L337.73 57.50L330.25 64.20L322.76 60.00L315.28 55.80L307.79 56.00L300.31 55.50L292.82 61.50L285.33 64.00L277.85 69.00L270.36 88.00L262.88 90.00L255.39 138.00L247.91 212.00L240.42 240.00L232.94 270.00L225.45 296.20L217.97 345.00L210.48 352.50L202.99 366.60L195.51 369.20L188.02 369.20L180.54 369.20L173.05 369.20L165.57 369.20L158.08 369.20L150.60 369.20L143.11 369.20L135.63 369.20L128.14 369.20L120.65 369.20L113.17 369.20L105.68 369.20L98.20 369.20L90.71 369.20L83.23 369.20L75.74 369.20L68.26 369.20L60.77 369.20L53.29 369.20L45.80 369.20Z" fill="url(#h_st)" stroke="#000" stroke-width="0.9"/>
<path d="M45.80 367.50L53.29 362.00L60.77 355.90L68.26 330.60L75.74 300.70L83.23 276.50L90.71 286.00L98.20 272.50L105.68 315.50L113.17 314.20L120.65 314.20L128.14 295.50L135.63 280.50L143.11 268.00L150.60 265.50L158.08 217.00L165.57 223.70L173.05 249.50L180.54 247.00L188.02 259.50L195.51 226.00L202.99 191.00L210.48 134.50L217.97 139.50L225.45 118.00L232.94 72.40L240.42 68.80L247.91 62.50L255.39 51.00L262.88 34.50L270.36 29.40L277.85 25.20L285.33 24.80L292.82 25.00L300.31 25.00L307.79 25.20L315.28 25.30L322.76 25.00L330.25 24.20L337.73 24.00L345.22 23.50L352.70 22.80L360.19 23.00L367.67 23.20L375.16 24.60L382.65 24.20L390.13 25.40L397.62 31.20L405.10 33.30L412.59 35.40L420.07 37.00L427.56 37.00L435.04 34.50L442.53 32.00L450.01 31.80L457.50 32.00L457.50 32.00L450.01 31.80L442.53 32.00L435.04 34.50L427.56 37.00L420.07 37.00L412.59 35.40L405.10 33.30L397.62 31.20L390.13 25.40L382.65 24.20L375.16 24.60L367.67 23.20L360.19 23.00L352.70 22.80L345.22 23.50L337.73 24.00L330.25 24.20L322.76 25.00L315.28 25.30L307.79 25.20L300.31 25.00L292.82 25.00L285.33 25.00L277.85 25.30L270.36 31.00L262.88 44.20L255.39 83.00L247.91 141.00L240.42 184.00L232.94 215.00L225.45 261.00L217.97 298.50L210.48 293.00L202.99 309.00L195.51 296.50L188.02 295.50L180.54 276.00L173.05 259.50L165.57 227.00L158.08 222.00L150.60 267.00L143.11 269.50L135.63 282.00L128.14 297.00L120.65 315.70L113.17 315.70L105.68 317.00L98.20 274.50L90.71 289.00L83.23 278.00L75.74 301.60L68.26 331.50L60.77 356.60L53.29 362.00L45.80 367.50Z" fill="#bf00bf" stroke="none"/>
<path d="M45.80 367.50L53.29 362.00L60.77 355.90L68.26 330.60L75.74 300.70L83.23 276.50L90.71 286.00L98.20 272.50L105.68 315.50L113.17 314.20L120.65 314.20L128.14 295.50L135.63 280.50L143.11 268.00L150.60 265.50L158.08 217.00L165.57 223.70L173.05 249.50L180.54 247.00L188.02 259.50L195.51 226.00L202.99 191.00L210.48 134.50L217.97 139.50L225.45 118.00L232.94 72.40L240.42 68.80L247.91 62.50L255.39 51.00L262.88 34.50L270.36 29.40L277.85 25.20L285.33 24.80L292.82 25.00L300.31 25.00L307.79 25.20L315.28 25.30L322.76 25.00L330.25 24.20L337.73 24.00L345.22 23.50L352.70 22.80L360.19 23.00L367.67 23.20L375.16 24.60L382.65 24.20L390.13 25.40L397.62 31.20L405.10 33.30L412.59 35.40L420.07 37.00L427.56 37.00L435.04 34.50L442.53 32.00L450.01 31.80L457.50 32.00L457.50 32.00L450.01 31.80L442.53 32.00L435.04 34.50L427.56 37.00L420.07 37.00L412.59 35.40L405.10 33.30L397.62 31.20L390.13 25.40L382.65 24.20L375.16 24.60L367.67 23.20L360.19 23.00L352.70 22.80L345.22 23.50L337.73 24.00L330.25 24.20L322.76 25.00L315.28 25.30L307.79 25.20L300.31 25.00L292.82 25.00L285.33 25.00L277.85 25.30L270.36 31.00L262.88 44.20L255.39 83.00L247.91 141.00L240.42 184.00L232.94 215.00L225.45 261.00L217.97 298.50L210.48 293.00L202.99 309.00L195.51 296.50L188.02 295.50L180.54 276.00L173.05 259.50L165.57 227.00L158.08 222.00L150.60 267.00L143.11 269.50L135.63 282.00L128.14 297.00L120.65 315.70L113.17 315.70L105.68 317.00L98.20 274.50L90.71 289.00L83.23 278.00L75.74 301.60L68.26 331.50L60.77 356.60L53.29 362.00L45.80 367.50Z" fill="url(#h_se)" stroke="#000" stroke-width="0.9"/>
<path d="M45.80 367.50L53.29 362.00L60.77 355.90L68.26 330.60L75.74 300.70L83.23 276.50L90.71 286.00L98.20 272.50L105.68 315.50L113.17 314.20L120.65 314.20L128.14 295.50L135.63 280.50L143.11 268.00L150.60 265.50L158.08 217.00L165.57 223.70L173.05 248.30L180.54 243.00L188.02 258.00L195.51 224.50L202.99 189.50L210.48 133.30L217.97 139.50L225.45 118.00L232.94 72.40L240.42 68.80L247.91 62.50L255.39 51.00L262.88 34.50L270.36 29.40L277.85 25.20L285.33 24.80L292.82 25.00L300.31 25.00L307.79 25.20L315.28 25.30L322.76 25.00L330.25 24.20L337.73 24.00L345.22 23.50L352.70 22.80L360.19 23.00L367.67 23.20L375.16 24.60L382.65 24.20L390.13 25.40L397.62 31.20L405.10 33.30L412.59 35.40L420.07 37.00L427.56 37.00L435.04 34.50L442.53 32.00L450.01 31.80L457.50 32.00L457.50 32.00L450.01 31.80L442.53 32.00L435.04 34.50L427.56 37.00L420.07 37.00L412.59 35.40L405.10 33.30L397.62 31.20L390.13 25.40L382.65 24.20L375.16 24.60L367.67 23.20L360.19 23.00L352.70 22.80L345.22 23.50L337.73 24.00L330.25 24.20L322.76 25.00L315.28 25.30L307.79 25.20L300.31 25.00L292.82 25.00L285.33 24.80L277.85 25.20L270.36 29.40L262.88 34.50L255.39 51.00L247.91 62.50L240.42 68.80L232.94 72.40L225.45 118.00L217.97 139.50L210.48 134.50L202.99 191.00L195.51 226.00L188.02 259.50L180.54 247.00L173.05 249.50L165.57 223.70L158.08 217.00L150.60 265.50L143.11 268.00L135.63 280.50L128.14 295.50L120.65 314.20L113.17 314.20L105.68 315.50L98.20 272.50L90.71 286.00L83.23 276.50L75.74 300.70L68.26 330.60L60.77 355.90L53.29 362.00L45.80 367.50Z" fill="#ff0000" stroke="none"/>
<path d="M45.80 367.50L53.29 362.00L60.77 355.90L68.26 330.60L75.74 300.70L83.23 276.50L90.71 286.00L98.20 272.50L105.68 315.50L113.17 314.20L120.65 314.20L128.14 295.50L135.63 280.50L143.11 268.00L150.60 265.50L158.08 217.00L165.57 223.70L173.05 248.30L180.54 243.00L188.02 258.00L195.51 224.50L202.99 189.50L210.48 133.30L217.97 139.50L225.45 118.00L232.94 72.40L240.42 68.80L247.91 62.50L255.39 51.00L262.88 34.50L270.36 29.40L277.85 25.20L285.33 24.80L292.82 25.00L300.31 25.00L307.79 25.20L315.28 25.30L322.76 25.00L330.25 24.20L337.73 24.00L345.22 23.50L352.70 22.80L360.19 23.00L367.67 23.20L375.16 24.60L382.65 24.20L390.13 25.40L397.62 31.20L405.10 33.30L412.59 35.40L420.07 37.00L427.56 37.00L435.04 34.50L442.53 32.00L450.01 31.80L457.50 32.00L457.50 32.00L450.01 31.80L442.53 32.00L435.04 34.50L427.56 37.00L420.07 37.00L412.59 35.40L405.10 33.30L397.62 31.20L390.13 25.40L382.65 24.20L375.16 24.60L367.67 23.20L360.19 23.00L352.70 22.80L345.22 23.50L337.73 24.00L330.25 24.20L322.76 25.00L315.28 25.30L307.79 25.20L300.31 25.00L292.82 25.00L285.33 24.80L277.85 25.20L270.36 29.40L262.88 34.50L255.39 51.00L247.91 62.50L240.42 68.80L232.94 72.40L225.45 118.00L217.97 139.50L210.48 134.50L202.99 191.00L195.51 226.00L188.02 259.50L180.54 247.00L173.05 249.50L165.57 223.70L158.08 217.00L150.60 265.50L143.11 268.00L135.63 280.50L128.14 295.50L120.65 314.20L113.17 314.20L105.68 315.50L98.20 272.50L90.71 286.00L83.23 276.50L75.74 300.70L68.26 330.60L60.77 355.90L53.29 362.00L45.80 367.50Z" fill="url(#h_se)" stroke="#000" stroke-width="0.9"/>
<path d="M45.80 367.50L53.29 361.00L60.77 337.50L68.26 296.00L75.74 228.00L83.23 191.50L90.71 207.50L98.20 224.00L105.68 250.70L113.17 240.70L120.65 249.50L128.14 221.00L135.63 212.00L143.11 221.00L150.60 223.70L158.08 168.70L165.57 182.00L173.05 222.00L180.54 212.00L188.02 221.00L195.51 185.00L202.99 172.00L210.48 133.00L217.97 139.30L225.45 118.00L232.94 72.40L240.42 68.80L247.91 62.50L255.39 51.00L262.88 34.50L270.36 29.40L277.85 25.20L285.33 24.80L292.82 25.00L300.31 25.00L307.79 25.20L315.28 25.30L322.76 25.00L330.25 24.20L337.73 24.00L345.22 23.50L352.70 22.80L360.19 23.00L367.67 23.20L375.16 24.60L382.65 24.20L390.13 25.40L397.62 31.20L405.10 33.30L412.59 35.40L420.07 37.00L427.56 37.00L435.04 34.50L442.53 32.00L450.01 31.80L457.50 32.00L457.50 32.00L450.01 31.80L442.53 32.00L435.04 34.50L427.56 37.00L420.07 37.00L412.59 35.40L405.10 33.30L397.62 31.20L390.13 25.40L382.65 24.20L375.16 24.60L367.67 23.20L360.19 23.00L352.70 22.80L345.22 23.50L337.73 24.00L330.25 24.20L322.76 25.00L315.28 25.30L307.79 25.20L300.31 25.00L292.82 25.00L285.33 24.80L277.85 25.20L270.36 29.40L262.88 34.50L255.39 51.00L247.91 62.50L240.42 68.80L232.94 72.40L225.45 118.00L217.97 139.50L210.48 133.30L202.99 189.50L195.51 224.50L188.02 258.00L180.54 243.00L173.05 248.30L165.57 223.70L158.08 217.00L150.60 265.50L143.11 268.00L135.63 280.50L128.14 295.50L120.65 314.20L113.17 314.20L105.68 315.50L98.20 272.50L90.71 286.00L83.23 276.50L75.74 300.70L68.26 330.60L60.77 355.90L53.29 362.00L45.80 367.50Z" fill="#bfbf00" stroke="none"/>
<path d="M45.80 367.50L53.29 361.00L60.77 337.50L68.26 296.00L75.74 228.00L83.23 191.50L90.71 207.50L98.20 224.00L105.68 250.70L113.17 240.70L120.65 249.50L128.14 221.00L135.63 212.00L143.11 221.00L150.60 223.70L158.08 168.70L165.57 182.00L173.05 222.00L180.54 212.00L188.02 221.00L195.51 185.00L202.99 172.00L210.48 133.00L217.97 139.30L225.45 118.00L232.94 72.40L240.42 68.80L247.91 62.50L255.39 51.00L262.88 34.50L270.36 29.40L277.85 25.20L285.33 24.80L292.82 25.00L300.31 25.00L307.79 25.20L315.28 25.30L322.76 25.00L330.25 24.20L337.73 24.00L345.22 23.50L352.70 22.80L360.19 23.00L367.67 23.20L375.16 24.60L382.65 24.20L390.13 25.40L397.62 31.20L405.10 33.30L412.59 35.40L420.07 37.00L427.56 37.00L435.04 34.50L442.53 32.00L450.01 31.80L457.50 32.00L457.50 32.00L450.01 31.80L442.53 32.00L435.04 34.50L427.56 37.00L420.07 37.00L412.59 35.40L405.10 33.30L397.62 31.20L390.13 25.40L382.65 24.20L375.16 24.60L367.67 23.20L360.19 23.00L352.70 22.80L345.22 23.50L337.73 24.00L330.25 24.20L322.76 25.00L315.28 25.30L307.79 25.20L300.31 25.00L292.82 25.00L285.33 24.80L277.85 25.20L270.36 29.40L262.88 34.50L255.39 51.00L247.91 62.50L240.42 68.80L232.94 72.40L225.45 118.00L217.97 139.50L210.48 133.30L202.99 189.50L195.51 224.50L188.02 258.00L180.54 243.00L173.05 248.30L165.57 223.70L158.08 217.00L150.60 265.50L143.11 268.00L135.63 280.50L128.14 295.50L120.65 314.20L113.17 314.20L105.68 315.50L98.20 272.50L90.71 286.00L83.23 276.50L75.74 300.70L68.26 330.60L60.77 355.90L53.29 362.00L45.80 367.50Z" fill="url(#h_so)" stroke="#000" stroke-width="0.9"/>
<path d="M45.80 341.00L53.29 318.70L60.77 297.00L68.26 256.00L75.74 213.00L83.23 174.50L90.71 187.80L98.20 196.00L105.68 202.00L113.17 172.80L120.65 165.00L128.14 133.50L135.63 143.50L143.11 141.80L150.60 138.50L158.08 105.00L165.57 121.00L173.05 198.70L180.54 179.50L188.02 163.50L195.51 178.00L202.99 167.00L210.48 132.00L217.97 138.50L225.45 117.00L232.94 71.40L240.42 67.80L247.91 61.50L255.39 50.30L262.88 34.20L270.36 29.20L277.85 23.20L285.33 23.20L292.82 23.20L300.31 23.20L307.79 23.20L315.28 23.20L322.76 23.20L330.25 23.20L337.73 23.20L345.22 22.50L352.70 21.80L360.19 21.00L367.67 20.80L375.16 20.80L382.65 20.80L390.13 20.80L397.62 27.50L405.10 29.30L412.59 31.20L420.07 33.00L427.56 32.80L435.04 31.50L442.53 30.00L450.01 30.50L457.50 31.00L457.50 32.00L450.01 31.80L442.53 32.00L435.04 34.50L427.56 37.00L420.07 37.00L412.59 35.40L405.10 33.30L397.62 31.20L390.13 25.40L382.65 24.20L375.16 24.60L367.67 23.20L360.19 23.00L352.70 22.80L345.22 23.50L337.73 24.00L330.25 24.20L322.76 25.00L315.28 25.30L307.79 25.20L300.31 25.00L292.82 25.00L285.33 24.80L277.85 25.20L270.36 29.40L262.88 34.50L255.39 51.00L247.91 62.50L240.42 68.80L232.94 72.40L225.45 118.00L217.97 139.30L210.48 133.00L202.99 172.00L195.51 185.00L188.02 221.00L180.54 212.00L173.05 222.00L165.57 182.00L158.08 168.70L150.60 223.70L143.11 221.00L135.63 212.00L128.14 221.00L120.65 249.50L113.17 240.70L105.68 250.70L98.20 224.00L90.71 207.50L83.23 191.50L75.74 228.00L68.26 296.00L60.77 337.50L53.29 361.00L45.80 367.50Z" fill="#0000ff" stroke="none"/>
<path d="M45.80 341.00L53.29 318.70L60.77 297.00L68.26 256.00L75.74 213.00L83.23 174.50L90.71 187.80L98.20 196.00L105.68 202.00L113.17 172.80L120.65 165.00L128.14 133.50L135.63 143.50L143.11 141.80L150.60 138.50L158.08 105.00L165.57 121.00L173.05 198.70L180.54 179.50L188.02 163.50L195.51 178.00L202.99 167.00L210.48 132.00L217.97 138.50L225.45 117.00L232.94 71.40L240.42 67.80L247.91 61.50L255.39 50.30L262.88 34.20L270.36 29.20L277.85 23.20L285.33 23.20L292.82 23.20L300.31 23.20L307.79 23.20L315.28 23.20L322.76 23.20L330.25 23.20L337.73 23.20L345.22 22.50L352.70 21.80L360.19 21.00L367.67 20.80L375.16 20.80L382.65 20.80L390.13 20.80L397.62 27.50L405.10 29.30L412.59 31.20L420.07 33.00L427.56 32.80L435.04 31.50L442.53 30.00L450.01 30.50L457.50 31.00L457.50 32.00L450.01 31.80L442.53 32.00L435.04 34.50L427.56 37.00L420.07 37.00L412.59 35.40L405.10 33.30L397.62 31.20L390.13 25.40L382.65 24.20L375.16 24.60L367.67 23.20L360.19 23.00L352.70 22.80L345.22 23.50L337.73 24.00L330.25 24.20L322.76 25.00L315.28 25.30L307.79 25.20L300.31 25.00L292.82 25.00L285.33 24.80L277.85 25.20L270.36 29.40L262.88 34.50L255.39 51.00L247.91 62.50L240.42 68.80L232.94 72.40L225.45 118.00L217.97 139.30L210.48 133.00L202.99 172.00L195.51 185.00L188.02 221.00L180.54 212.00L173.05 222.00L165.57 182.00L158.08 168.70L150.60 223.70L143.11 221.00L135.63 212.00L128.14 221.00L120.65 249.50L113.17 240.70L105.68 250.70L98.20 224.00L90.71 207.50L83.23 191.50L75.74 228.00L68.26 296.00L60.77 337.50L53.29 361.00L45.80 367.50Z" fill="url(#h_xx)" stroke="#000" stroke-width="0.9"/>
<path d="M45.80 341.00L53.29 318.70L60.77 297.00L68.26 256.00L75.74 213.00L83.23 165.30L90.71 178.70L98.20 178.70L105.68 153.50L113.17 152.00L120.65 146.00L128.14 116.00L135.63 109.30L143.11 102.70L150.60 99.30L158.08 95.00L165.57 91.80L173.05 90.00L180.54 88.50L188.02 87.00L195.51 86.00L202.99 87.50L210.48 89.00L217.97 100.00L225.45 93.00L232.94 56.00L240.42 50.00L247.91 46.00L255.39 42.30L262.88 34.20L270.36 29.20L277.85 23.20L285.33 23.20L292.82 23.20L300.31 23.20L307.79 23.20L315.28 23.20L322.76 23.20L330.25 23.20L337.73 23.20L345.22 22.50L352.70 21.80L360.19 21.00L367.67 20.80L375.16 20.80L382.65 20.80L390.13 20.80L397.62 27.50L405.10 29.30L412.59 31.20L420.07 33.00L427.56 32.80L435.04 31.50L442.53 30.00L450.01 30.50L457.50 31.00L457.50 31.00L450.01 30.50L442.53 30.00L435.04 31.50L427.56 32.80L420.07 33.00L412.59 31.20L405.10 29.30L397.62 27.50L390.13 20.80L382.65 20.80L375.16 20.80L367.67 20.80L360.19 21.00L352.70 21.80L345.22 22.50L337.73 23.20L330.25 23.20L322.76 23.20L315.28 23.20L307.79 23.20L300.31 23.20L292.82 23.20L285.33 23.20L277.85 23.20L270.36 29.20L262.88 34.20L255.39 50.30L247.91 61.50L240.42 67.80L232.94 71.40L225.45 117.00L217.97 138.50L210.48 132.00L202.99 167.00L195.51 178.00L188.02 163.50L180.54 179.50L173.05 198.70L165.57 121.00L158.08 105.00L150.60 138.50L143.11 141.80L135.63 143.50L128.14 133.50L120.65 165.00L113.17 172.80L105.68 202.00L98.20 196.00L90.71 187.80L83.23 174.50L75.74 213.00L68.26 256.00L60.77 297.00L53.29 318.70L45.80 341.00Z" fill="#00bfbf" stroke="none"/>
<path d="M45.80 341.00L53.29 318.70L60.77 297.00L68.26 256.00L75.74 213.00L83.23 165.30L90.71 178.70L98.20 178.70L105.68 153.50L113.17 152.00L120.65 146.00L128.14 116.00L135.63 109.30L143.11 102.70L150.60 99.30L158.08 95.00L165.57 91.80L173.05 90.00L180.54 88.50L188.02 87.00L195.51 86.00L202.99 87.50L210.48 89.00L217.97 100.00L225.45 93.00L232.94 56.00L240.42 50.00L247.91 46.00L255.39 42.30L262.88 34.20L270.36 29.20L277.85 23.20L285.33 23.20L292.82 23.20L300.31 23.20L307.79 23.20L315.28 23.20L322.76 23.20L330.25 23.20L337.73 23.20L345.22 22.50L352.70 21.80L360.19 21.00L367.67 20.80L375.16 20.80L382.65 20.80L390.13 20.80L397.62 27.50L405.10 29.30L412.59 31.20L420.07 33.00L427.56 32.80L435.04 31.50L442.53 30.00L450.01 30.50L457.50 31.00L457.50 31.00L450.01 30.50L442.53 30.00L435.04 31.50L427.56 32.80L420.07 33.00L412.59 31.20L405.10 29.30L397.62 27.50L390.13 20.80L382.65 20.80L375.16 20.80L367.67 20.80L360.19 21.00L352.70 21.80L345.22 22.50L337.73 23.20L330.25 23.20L322.76 23.20L315.28 23.20L307.79 23.20L300.31 23.20L292.82 23.20L285.33 23.20L277.85 23.20L270.36 29.20L262.88 34.20L255.39 50.30L247.91 61.50L240.42 67.80L232.94 71.40L225.45 117.00L217.97 138.50L210.48 132.00L202.99 167.00L195.51 178.00L188.02 163.50L180.54 179.50L173.05 198.70L165.57 121.00L158.08 105.00L150.60 138.50L143.11 141.80L135.63 143.50L128.14 133.50L120.65 165.00L113.17 172.80L105.68 202.00L98.20 196.00L90.71 187.80L83.23 174.50L75.74 213.00L68.26 256.00L60.77 297.00L53.29 318.70L45.80 341.00Z" fill="url(#h_lo)" stroke="#000" stroke-width="0.9"/>
<path d="M45.80 203.50L53.29 194.00L60.77 185.30L68.26 163.00L75.74 134.00L83.23 119.30L90.71 130.00L98.20 127.00L105.68 124.00L113.17 123.00L120.65 118.50L128.14 109.00L135.63 103.50L143.11 98.50L150.60 96.00L158.08 93.50L165.57 90.00L173.05 89.00L180.54 87.50L188.02 83.30L195.51 80.80L202.99 80.80L210.48 84.50L217.97 94.50L225.45 86.50L232.94 54.00L240.42 48.50L247.91 44.80L255.39 41.30L262.88 33.80L270.36 29.10L277.85 23.20L285.33 23.20L292.82 23.20L300.31 23.20L307.79 23.20L315.28 23.20L322.76 23.20L330.25 23.20L337.73 23.20L345.22 22.50L352.70 21.80L360.19 21.00L367.67 20.80L375.16 20.80L382.65 20.80L390.13 20.80L397.62 27.50L405.10 29.30L412.59 31.20L420.07 33.00L427.56 32.80L435.04 31.50L442.53 30.00L450.01 30.50L457.50 31.00L457.50 31.00L450.01 30.50L442.53 30.00L435.04 31.50L427.56 32.80L420.07 33.00L412.59 31.20L405.10 29.30L397.62 27.50L390.13 20.80L382.65 20.80L375.16 20.80L367.67 20.80L360.19 21.00L352.70 21.80L345.22 22.50L337.73 23.20L330.25 23.20L322.76 23.20L315.28 23.20L307.79 23.20L300.31 23.20L292.82 23.20L285.33 23.20L277.85 23.20L270.36 29.20L262.88 34.20L255.39 42.30L247.91 46.00L240.42 50.00L232.94 56.00L225.45 93.00L217.97 100.00L210.48 89.00L202.99 87.50L195.51 86.00L188.02 87.00L180.54 88.50L173.05 90.00L165.57 91.80L158.08 95.00L150.60 99.30L143.11 102.70L135.63 109.30L128.14 116.00L120.65 146.00L113.17 152.00L105.68 153.50L98.20 178.70L90.71 178.70L83.23 165.30L75.74 213.00L68.26 256.00L60.77 297.00L53.29 318.70L45.80 341.00Z" fill="#008000" stroke="none"/>
<path d="M45.80 203.50L53.29 194.00L60.77 185.30L68.26 163.00L75.74 134.00L83.23 119.30L90.71 130.00L98.20 127.00L105.68 124.00L113.17 123.00L120.65 118.50L128.14 109.00L135.63 103.50L143.11 98.50L150.60 96.00L158.08 93.50L165.57 90.00L173.05 89.00L180.54 87.50L188.02 83.30L195.51 80.80L202.99 80.80L210.48 84.50L217.97 94.50L225.45 86.50L232.94 54.00L240.42 48.50L247.91 44.80L255.39 41.30L262.88 33.80L270.36 29.10L277.85 23.20L285.33 23.20L292.82 23.20L300.31 23.20L307.79 23.20L315.28 23.20L322.76 23.20L330.25 23.20L337.73 23.20L345.22 22.50L352.70 21.80L360.19 21.00L367.67 20.80L375.16 20.80L382.65 20.80L390.13 20.80L397.62 27.50L405.10 29.30L412.59 31.20L420.07 33.00L427.56 32.80L435.04 31.50L442.53 30.00L450.01 30.50L457.50 31.00L457.50 31.00L450.01 30.50L442.53 30.00L435.04 31.50L427.56 32.80L420.07 33.00L412.59 31.20L405.10 29.30L397.62 27.50L390.13 20.80L382.65 20.80L375.16 20.80L367.67 20.80L360.19 21.00L352.70 21.80L345.22 22.50L337.73 23.20L330.25 23.20L322.76 23.20L315.28 23.20L307.79 23.20L300.31 23.20L292.82 23.20L285.33 23.20L277.85 23.20L270.36 29.20L262.88 34.20L255.39 42.30L247.91 46.00L240.42 50.00L232.94 56.00L225.45 93.00L217.97 100.00L210.48 89.00L202.99 87.50L195.51 86.00L188.02 87.00L180.54 88.50L173.05 90.00L165.57 91.80L158.08 95.00L150.60 99.30L143.11 102.70L135.63 109.30L128.14 116.00L120.65 146.00L113.17 152.00L105.68 153.50L98.20 178.70L90.71 178.70L83.23 165.30L75.74 213.00L68.26 256.00L60.77 297.00L53.29 318.70L45.80 341.00Z" fill="url(#h_dt)" stroke="#000" stroke-width="0.9"/>
<path d="M45.80 203.40L53.29 192.00L60.77 182.00L68.26 154.00L75.74 119.00L83.23 96.00L90.71 98.50L98.20 85.00L105.68 70.80L113.17 63.50L120.65 59.00L128.14 55.00L135.63 53.00L143.11 56.70L150.60 56.70L158.08 54.20L165.57 51.70L173.05 50.80L180.54 49.20L188.02 49.20L195.51 54.20L202.99 60.80L210.48 73.00L217.97 86.80L225.45 81.30L232.94 53.00L240.42 48.00L247.91 44.30L255.39 40.20L262.88 33.60L270.36 29.10L277.85 23.20L285.33 23.20L292.82 23.20L300.31 23.20L307.79 23.20L315.28 23.20L322.76 23.20L330.25 23.20L337.73 23.20L345.22 22.50L352.70 21.80L360.19 21.00L367.67 20.80L375.16 20.80L382.65 20.80L390.13 20.80L397.62 27.50L405.10 29.30L412.59 31.20L420.07 33.00L427.56 32.80L435.04 31.50L442.53 30.00L450.01 30.50L457.50 31.00L457.50 31.00L450.01 30.50L442.53 30.00L435.04 31.50L427.56 32.80L420.07 33.00L412.59 31.20L405.10 29.30L397.62 27.50L390.13 20.80L382.65 20.80L375.16 20.80L367.67 20.80L360.19 21.00L352.70 21.80L345.22 22.50L337.73 23.20L330.25 23.20L322.76 23.20L315.28 23.20L307.79 23.20L300.31 23.20L292.82 23.20L285.33 23.20L277.85 23.20L270.36 29.10L262.88 33.80L255.39 41.30L247.91 44.80L240.42 48.50L232.94 54.00L225.45 86.50L217.97 94.50L210.48 84.50L202.99 80.80L195.51 80.80L188.02 83.30L180.54 87.50L173.05 89.00L165.57 90.00L158.08 93.50L150.60 96.00L143.11 98.50L135.63 103.50L128.14 109.00L120.65 118.50L113.17 123.00L105.68 124.00L98.20 127.00L90.71 130.00L83.23 119.30L75.74 134.00L68.26 163.00L60.77 185.30L53.29 194.00L45.80 203.50Z" fill="#bf00bf" stroke="none"/>
<path d="M45.80 203.40L53.29 192.00L60.77 182.00L68.26 154.00L75.74 119.00L83.23 96.00L90.71 98.50L98.20 85.00L105.68 70.80L113.17 63.50L120.65 59.00L128.14 55.00L135.63 53.00L143.11 56.70L150.60 56.70L158.08 54.20L165.57 51.70L173.05 50.80L180.54 49.20L188.02 49.20L195.51 54.20L202.99 60.80L210.48 73.00L217.97 86.80L225.45 81.30L232.94 53.00L240.42 48.00L247.91 44.30L255.39 40.20L262.88 33.60L270.36 29.10L277.85 23.20L285.33 23.20L292.82 23.20L300.31 23.20L307.79 23.20L315.28 23.20L322.76 23.20L330.25 23.20L337.73 23.20L345.22 22.50L352.70 21.80L360.19 21.00L367.67 20.80L375.16 20.80L382.65 20.80L390.13 20.80L397.62 27.50L405.10 29.30L412.59 31.20L420.07 33.00L427.56 32.80L435.04 31.50L442.53 30.00L450.01 30.50L457.50 31.00L457.50 31.00L450.01 30.50L442.53 30.00L435.04 31.50L427.56 32.80L420.07 33.00L412.59 31.20L405.10 29.30L397.62 27.50L390.13 20.80L382.65 20.80L375.16 20.80L367.67 20.80L360.19 21.00L352.70 21.80L345.22 22.50L337.73 23.20L330.25 23.20L322.76 23.20L315.28 23.20L307.79 23.20L300.31 23.20L292.82 23.20L285.33 23.20L277.85 23.20L270.36 29.10L262.88 33.80L255.39 41.30L247.91 44.80L240.42 48.50L232.94 54.00L225.45 86.50L217.97 94.50L210.48 84.50L202.99 80.80L195.51 80.80L188.02 83.30L180.54 87.50L173.05 89.00L165.57 90.00L158.08 93.50L150.60 96.00L143.11 98.50L135.63 103.50L128.14 109.00L120.65 118.50L113.17 123.00L105.68 124.00L98.20 127.00L90.71 130.00L83.23 119.30L75.74 134.00L68.26 163.00L60.77 185.30L53.29 194.00L45.80 203.50Z" fill="url(#h_ne)" stroke="#000" stroke-width="0.9"/>
<path d="M45.80 161.00L53.29 158.50L60.77 143.00L68.26 124.00L75.74 89.00L83.23 74.00L90.71 75.50L98.20 62.50L105.68 50.00L113.17 47.50L120.65 43.70L128.14 39.50L135.63 40.00L143.11 42.50L150.60 44.20L158.08 41.70L165.57 40.80L173.05 40.00L180.54 40.00L188.02 40.00L195.51 48.30L202.99 60.00L210.48 72.50L217.97 86.30L225.45 80.80L232.94 52.70L240.42 47.70L247.91 44.00L255.39 39.80L262.88 33.50L270.36 29.10L277.85 23.20L285.33 23.20L292.82 23.20L300.31 23.20L307.79 23.20L315.28 23.20L322.76 23.20L330.25 23.20L337.73 23.20L345.22 22.50L352.70 21.80L360.19 21.00L367.67 20.80L375.16 20.80L382.65 20.80L390.13 20.80L397.62 27.50L405.10 29.30L412.59 31.20L420.07 33.00L427.56 32.80L435.04 31.50L442.53 30.00L450.01 30.50L457.50 31.00L457.50 31.00L450.01 30.50L442.53 30.00L435.04 31.50L427.56 32.80L420.07 33.00L412.59 31.20L405.10 29.30L397.62 27.50L390.13 20.80L382.65 20.80L375.16 20.80L367.67 20.80L360.19 21.00L352.70 21.80L345.22 22.50L337.73 23.20L330.25 23.20L322.76 23.20L315.28 23.20L307.79 23.20L300.31 23.20L292.82 23.20L285.33 23.20L277.85 23.20L270.36 29.10L262.88 33.60L255.39 40.20L247.91 44.30L240.42 48.00L232.94 53.00L225.45 81.30L217.97 86.80L210.48 73.00L202.99 60.80L195.51 54.20L188.02 49.20L180.54 49.20L173.05 50.80L165.57 51.70L158.08 54.20L150.60 56.70L143.11 56.70L135.63 53.00L128.14 55.00L120.65 59.00L113.17 63.50L105.68 70.80L98.20 85.00L90.71 98.50L83.23 96.00L75.74 119.00L68.26 154.00L60.77 182.00L53.29 192.00L45.80 203.40Z" fill="#ff0000" stroke="none"/>
<path d="M45.80 161.00L53.29 158.50L60.77 143.00L68.26 124.00L75.74 89.00L83.23 74.00L90.71 75.50L98.20 62.50L105.68 50.00L113.17 47.50L120.65 43.70L128.14 39.50L135.63 40.00L143.11 42.50L150.60 44.20L158.08 41.70L165.57 40.80L173.05 40.00L180.54 40.00L188.02 40.00L195.51 48.30L202.99 60.00L210.48 72.50L217.97 86.30L225.45 80.80L232.94 52.70L240.42 47.70L247.91 44.00L255.39 39.80L262.88 33.50L270.36 29.10L277.85 23.20L285.33 23.20L292.82 23.20L300.31 23.20L307.79 23.20L315.28 23.20L322.76 23.20L330.25 23.20L337.73 23.20L345.22 22.50L352.70 21.80L360.19 21.00L367.67 20.80L375.16 20.80L382.65 20.80L390.13 20.80L397.62 27.50L405.10 29.30L412.59 31.20L420.07 33.00L427.56 32.80L435.04 31.50L442.53 30.00L450.01 30.50L457.50 31.00L457.50 31.00L450.01 30.50L442.53 30.00L435.04 31.50L427.56 32.80L420.07 33.00L412.59 31.20L405.10 29.30L397.62 27.50L390.13 20.80L382.65 20.80L375.16 20.80L367.67 20.80L360.19 21.00L352.70 21.80L345.22 22.50L337.73 23.20L330.25 23.20L322.76 23.20L315.28 23.20L307.79 23.20L300.31 23.20L292.82 23.20L285.33 23.20L277.85 23.20L270.36 29.10L262.88 33.60L255.39 40.20L247.91 44.30L240.42 48.00L232.94 53.00L225.45 81.30L217.97 86.80L210.48 73.00L202.99 60.80L195.51 54.20L188.02 49.20L180.54 49.20L173.05 50.80L165.57 51.70L158.08 54.20L150.60 56.70L143.11 56.70L135.63 53.00L128.14 55.00L120.65 59.00L113.17 63.50L105.68 70.80L98.20 85.00L90.71 98.50L83.23 96.00L75.74 119.00L68.26 154.00L60.77 182.00L53.29 192.00L45.80 203.40Z" fill="url(#h_st)" stroke="#000" stroke-width="0.9"/>
<path d="M45.80 134.30L53.29 139.30L60.77 128.50L68.26 117.70L75.74 75.00L83.23 57.00L90.71 47.50L98.20 38.70L105.68 33.70L113.17 31.00L120.65 28.70L128.14 26.00L135.63 26.00L143.11 26.70L150.60 27.00L158.08 29.20L165.57 29.70L173.05 30.30L180.54 30.00L188.02 31.70L195.51 42.50L202.99 55.80L210.48 68.80L217.97 80.60L225.45 76.00L232.94 51.20L240.42 46.50L247.91 42.70L255.39 38.30L262.88 32.80L270.36 28.90L277.85 23.20L285.33 23.20L292.82 23.20L300.31 23.20L307.79 23.20L315.28 23.20L322.76 23.20L330.25 23.20L337.73 23.20L345.22 22.50L352.70 21.80L360.19 21.00L367.67 20.80L375.16 20.80L382.65 20.80L390.13 20.80L397.62 27.50L405.10 29.30L412.59 31.20L420.07 33.00L427.56 32.80L435.04 31.50L442.53 30.00L450.01 30.50L457.50 31.00L457.50 31.00L450.01 30.50L442.53 30.00L435.04 31.50L427.56 32.80L420.07 33.00L412.59 31.20L405.10 29.30L397.62 27.50L390.13 20.80L382.65 20.80L375.16 20.80L367.67 20.80L360.19 21.00L352.70 21.80L345.22 22.50L337.73 23.20L330.25 23.20L322.76 23.20L315.28 23.20L307.79 23.20L300.31 23.20L292.82 23.20L285.33 23.20L277.85 23.20L270.36 29.10L262.88 33.50L255.39 39.80L247.91 44.00L240.42 47.70L232.94 52.70L225.45 80.80L217.97 86.30L210.48 72.50L202.99 60.00L195.51 48.30L188.02 40.00L180.54 40.00L173.05 40.00L165.57 40.80L158.08 41.70L150.60 44.20L143.11 42.50L135.63 40.00L128.14 39.50L120.65 43.70L113.17 47.50L105.68 50.00L98.20 62.50L90.71 75.50L83.23 74.00L75.74 89.00L68.26 124.00L60.77 143.00L53.29 158.50L45.80 161.00Z" fill="#bfbf00" stroke="none"/>
<path d="M45.80 134.30L53.29 139.30L60.77 128.50L68.26 117.70L75.74 75.00L83.23 57.00L90.71 47.50L98.20 38.70L105.68 33.70L113.17 31.00L120.65 28.70L128.14 26.00L135.63 26.00L143.11 26.70L150.60 27.00L158.08 29.20L165.57 29.70L173.05 30.30L180.54 30.00L188.02 31.70L195.51 42.50L202.99 55.80L210.48 68.80L217.97 80.60L225.45 76.00L232.94 51.20L240.42 46.50L247.91 42.70L255.39 38.30L262.88 32.80L270.36 28.90L277.85 23.20L285.33 23.20L292.82 23.20L300.31 23.20L307.79 23.20L315.28 23.20L322.76 23.20L330.25 23.20L337.73 23.20L345.22 22.50L352.70 21.80L360.19 21.00L367.67 20.80L375.16 20.80L382.65 20.80L390.13 20.80L397.62 27.50L405.10 29.30L412.59 31.20L420.07 33.00L427.56 32.80L435.04 31.50L442.53 30.00L450.01 30.50L457.50 31.00L457.50 31.00L450.01 30.50L442.53 30.00L435.04 31.50L427.56 32.80L420.07 33.00L412.59 31.20L405.10 29.30L397.62 27.50L390.13 20.80L382.65 20.80L375.16 20.80L367.67 20.80L360.19 21.00L352.70 21.80L345.22 22.50L337.73 23.20L330.25 23.20L322.76 23.20L315.28 23.20L307.79 23.20L300.31 23.20L292.82 23.20L285.33 23.20L277.85 23.20L270.36 29.10L262.88 33.50L255.39 39.80L247.91 44.00L240.42 47.70L232.94 52.70L225.45 80.80L217.97 86.30L210.48 72.50L202.99 60.00L195.51 48.30L188.02 40.00L180.54 40.00L173.05 40.00L165.57 40.80L158.08 41.70L150.60 44.20L143.11 42.50L135.63 40.00L128.14 39.50L120.65 43.70L113.17 47.50L105.68 50.00L98.20 62.50L90.71 75.50L83.23 74.00L75.74 89.00L68.26 124.00L60.77 143.00L53.29 158.50L45.80 161.00Z" fill="url(#h_se)" stroke="#000" stroke-width="0.9"/>
<path d="M45.80 134.30L53.29 139.30L60.77 128.50L68.26 117.70L75.74 75.00L83.23 57.00L90.71 47.50L98.20 38.70L105.68 33.70L113.17 31.00L120.65 28.70L128.14 26.00L135.63 26.00L143.11 26.70L150.60 27.00L158.08 29.20L165.57 29.70L173.05 30.00L180.54 29.20L188.02 27.50L195.51 25.00L202.99 23.30L210.48 22.50L217.97 21.70L225.45 20.30L232.94 19.50L240.42 19.50L247.91 19.50L255.39 19.50L262.88 19.50L270.36 19.50L277.85 19.50L285.33 19.50L292.82 19.50L300.31 19.50L307.79 19.50L315.28 19.50L322.76 19.50L330.25 19.50L337.73 19.50L345.22 19.50L352.70 19.50L360.19 19.50L367.67 19.50L375.16 19.50L382.65 19.50L390.13 19.50L397.62 27.50L405.10 29.30L412.59 31.20L420.07 33.00L427.56 32.80L435.04 31.50L442.53 30.00L450.01 30.50L457.50 31.00L457.50 31.00L450.01 30.50L442.53 30.00L435.04 31.50L427.56 32.80L420.07 33.00L412.59 31.20L405.10 29.30L397.62 27.50L390.13 20.80L382.65 20.80L375.16 20.80L367.67 20.80L360.19 21.00L352.70 21.80L345.22 22.50L337.73 23.20L330.25 23.20L322.76 23.20L315.28 23.20L307.79 23.20L300.31 23.20L292.82 23.20L285.33 23.20L277.85 23.20L270.36 28.90L262.88 32.80L255.39 38.30L247.91 42.70L240.42 46.50L232.94 51.20L225.45 76.00L217.97 80.60L210.48 68.80L202.99 55.80L195.51 42.50L188.02 31.70L180.54 30.00L173.05 30.30L165.57 29.70L158.08 29.20L150.60 27.00L143.11 26.70L135.63 26.00L128.14 26.00L120.65 28.70L113.17 31.00L105.68 33.70L98.20 38.70L90.71 47.50L83.23 57.00L75.74 75.00L68.26 117.70L60.77 128.50L53.29 139.30L45.80 134.30Z" fill="#0000ff" stroke="none"/>
<path d="M45.80 134.30L53.29 139.30L60.77 128.50L68.26 117.70L75.74 75.00L83.23 57.00L90.71 47.50L98.20 38.70L105.68 33.70L113.17 31.00L120.65 28.70L128.14 26.00L135.63 26.00L143.11 26.70L150.60 27.00L158.08 29.20L165.57 29.70L173.05 30.00L180.54 29.20L188.02 27.50L195.51 25.00L202.99 23.30L210.48 22.50L217.97 21.70L225.45 20.30L232.94 19.50L240.42 19.50L247.91 19.50L255.39 19.50L262.88 19.50L270.36 19.50L277.85 19.50L285.33 19.50L292.82 19.50L300.31 19.50L307.79 19.50L315.28 19.50L322.76 19.50L330.25 19.50L337.73 19.50L345.22 19.50L352.70 19.50L360.19 19.50L367.67 19.50L375.16 19.50L382.65 19.50L390.13 19.50L397.62 27.50L405.10 29.30L412.59 31.20L420.07 33.00L427.56 32.80L435.04 31.50L442.53 30.00L450.01 30.50L457.50 31.00L457.50 31.00L450.01 30.50L442.53 30.00L435.04 31.50L427.56 32.80L420.07 33.00L412.59 31.20L405.10 29.30L397.62 27.50L390.13 20.80L382.65 20.80L375.16 20.80L367.67 20.80L360.19 21.00L352.70 21.80L345.22 22.50L337.73 23.20L330.25 23.20L322.76 23.20L315.28 23.20L307.79 23.20L300.31 23.20L292.82 23.20L285.33 23.20L277.85 23.20L270.36 28.90L262.88 32.80L255.39 38.30L247.91 42.70L240.42 46.50L232.94 51.20L225.45 76.00L217.97 80.60L210.48 68.80L202.99 55.80L195.51 42.50L188.02 31.70L180.54 30.00L173.05 30.30L165.57 29.70L158.08 29.20L150.60 27.00L143.11 26.70L135.63 26.00L128.14 26.00L120.65 28.70L113.17 31.00L105.68 33.70L98.20 38.70L90.71 47.50L83.23 57.00L75.74 75.00L68.26 117.70L60.77 128.50L53.29 139.30L45.80 134.30Z" fill="url(#h_so)" stroke="#000" stroke-width="0.9"/>
<path d="M45.80 95.20L53.29 94.50L60.77 78.00L68.26 59.00L75.74 38.00L83.23 33.00L90.71 29.70L98.20 27.00L105.68 24.50L113.17 22.50L120.65 22.00L128.14 22.00L135.63 23.50L143.11 26.00L150.60 27.00L158.08 29.20L165.57 29.70L173.05 30.00L180.54 29.20L188.02 27.50L195.51 25.00L202.99 23.30L210.48 22.50L217.97 21.70L225.45 20.30L232.94 19.50L240.42 19.50L247.91 19.50L255.39 19.50L262.88 19.50L270.36 19.50L277.85 19.50L285.33 19.50L292.82 19.50L300.31 19.50L307.79 19.50L315.28 19.50L322.76 19.50L330.25 19.50L337.73 19.50L345.22 19.50L352.70 19.50L360.19 19.50L367.67 19.50L375.16 19.50L382.65 19.50L390.13 19.50L397.62 27.50L405.10 29.30L412.59 31.20L420.07 33.00L427.56 32.80L435.04 31.50L442.53 30.00L450.01 30.50L457.50 31.00L457.50 31.00L450.01 30.50L442.53 30.00L435.04 31.50L427.56 32.80L420.07 33.00L412.59 31.20L405.10 29.30L397.62 27.50L390.13 19.50L382.65 19.50L375.16 19.50L367.67 19.50L360.19 19.50L352.70 19.50L345.22 19.50L337.73 19.50L330.25 19.50L322.76 19.50L315.28 19.50L307.79 19.50L300.31 19.50L292.82 19.50L285.33 19.50L277.85 19.50L270.36 19.50L262.88 19.50L255.39 19.50L247.91 19.50L240.42 19.50L232.94 19.50L225.45 20.30L217.97 21.70L210.48 22.50L202.99 23.30L195.51 25.00L188.02 27.50L180.54 29.20L173.05 30.00L165.57 29.70L158.08 29.20L150.60 27.00L143.11 26.70L135.63 26.00L128.14 26.00L120.65 28.70L113.17 31.00L105.68 33.70L98.20 38.70L90.71 47.50L83.23 57.00L75.74 75.00L68.26 117.70L60.77 128.50L53.29 139.30L45.80 134.30Z" fill="#00bfbf" stroke="none"/>
<path d="M45.80 95.20L53.29 94.50L60.77 78.00L68.26 59.00L75.74 38.00L83.23 33.00L90.71 29.70L98.20 27.00L105.68 24.50L113.17 22.50L120.65 22.00L128.14 22.00L135.63 23.50L143.11 26.00L150.60 27.00L158.08 29.20L165.57 29.70L173.05 30.00L180.54 29.20L188.02 27.50L195.51 25.00L202.99 23.30L210.48 22.50L217.97 21.70L225.45 20.30L232.94 19.50L240.42 19.50L247.91 19.50L255.39 19.50L262.88 19.50L270.36 19.50L277.85 19.50L285.33 19.50L292.82 19.50L300.31 19.50L307.79 19.50L315.28 19.50L322.76 19.50L330.25 19.50L337.73 19.50L345.22 19.50L352.70 19.50L360.19 19.50L367.67 19.50L375.16 19.50L382.65 19.50L390.13 19.50L397.62 27.50L405.10 29.30L412.59 31.20L420.07 33.00L427.56 32.80L435.04 31.50L442.53 30.00L450.01 30.50L457.50 31.00L457.50 31.00L450.01 30.50L442.53 30.00L435.04 31.50L427.56 32.80L420.07 33.00L412.59 31.20L405.10 29.30L397.62 27.50L390.13 19.50L382.65 19.50L375.16 19.50L367.67 19.50L360.19 19.50L352.70 19.50L345.22 19.50L337.73 19.50L330.25 19.50L322.76 19.50L315.28 19.50L307.79 19.50L300.31 19.50L292.82 19.50L285.33 19.50L277.85 19.50L270.36 19.50L262.88 19.50L255.39 19.50L247.91 19.50L240.42 19.50L232.94 19.50L225.45 20.30L217.97 21.70L210.48 22.50L202.99 23.30L195.51 25.00L188.02 27.50L180.54 29.20L173.05 30.00L165.57 29.70L158.08 29.20L150.60 27.00L143.11 26.70L135.63 26.00L128.14 26.00L120.65 28.70L113.17 31.00L105.68 33.70L98.20 38.70L90.71 47.50L83.23 57.00L75.74 75.00L68.26 117.70L60.77 128.50L53.29 139.30L45.80 134.30Z" fill="url(#h_xx)" stroke="#000" stroke-width="0.9"/>
<path d="M45.80 82.50L53.29 71.50L60.77 59.00L68.26 51.00L75.74 32.50L83.23 27.00L90.71 24.50L98.20 22.00L105.68 19.50L113.17 19.50L120.65 19.50L128.14 19.50L135.63 22.80L143.11 25.30L150.60 26.30L158.08 26.80L165.57 29.00L173.05 29.70L180.54 29.00L188.02 27.40L195.51 24.90L202.99 23.20L210.48 22.40L217.97 21.60L225.45 20.30L232.94 19.50L240.42 19.50L247.91 19.50L255.39 19.50L262.88 19.50L270.36 19.50L277.85 19.50L285.33 19.50L292.82 19.50L300.31 19.50L307.79 19.50L315.28 19.50L322.76 19.50L330.25 19.50L337.73 19.50L345.22 19.50L352.70 19.50L360.19 19.50L367.67 19.50L375.16 19.50L382.65 19.50L390.13 19.50L397.62 27.50L405.10 29.30L412.59 31.20L420.07 33.00L427.56 32.80L435.04 31.50L442.53 30.00L450.01 30.50L457.50 31.00L457.50 31.00L450.01 30.50L442.53 30.00L435.04 31.50L427.56 32.80L420.07 33.00L412.59 31.20L405.10 29.30L397.62 27.50L390.13 19.50L382.65 19.50L375.16 19.50L367.67 19.50L360.19 19.50L352.70 19.50L345.22 19.50L337.73 19.50L330.25 19.50L322.76 19.50L315.28 19.50L307.79 19.50L300.31 19.50L292.82 19.50L285.33 19.50L277.85 19.50L270.36 19.50L262.88 19.50L255.39 19.50L247.91 19.50L240.42 19.50L232.94 19.50L225.45 20.30L217.97 21.70L210.48 22.50L202.99 23.30L195.51 25.00L188.02 27.50L180.54 29.20L173.05 30.00L165.57 29.70L158.08 29.20L150.60 27.00L143.11 26.00L135.63 23.50L128.14 22.00L120.65 22.00L113.17 22.50L105.68 24.50L98.20 27.00L90.71 29.70L83.23 33.00L75.74 38.00L68.26 59.00L60.77 78.00L53.29 94.50L45.80 95.20Z" fill="#008000" stroke="none"/>
<path d="M45.80 82.50L53.29 71.50L60.77 59.00L68.26 51.00L75.74 32.50L83.23 27.00L90.71 24.50L98.20 22.00L105.68 19.50L113.17 19.50L120.65 19.50L128.14 19.50L135.63 22.80L143.11 25.30L150.60 26.30L158.08 26.80L165.57 29.00L173.05 29.70L180.54 29.00L188.02 27.40L195.51 24.90L202.99 23.20L210.48 22.40L217.97 21.60L225.45 20.30L232.94 19.50L240.42 19.50L247.91 19.50L255.39 19.50L262.88 19.50L270.36 19.50L277.85 19.50L285.33 19.50L292.82 19.50L300.31 19.50L307.79 19.50L315.28 19.50L322.76 19.50L330.25 19.50L337.73 19.50L345.22 19.50L352.70 19.50L360.19 19.50L367.67 19.50L375.16 19.50L382.65 19.50L390.13 19.50L397.62 27.50L405.10 29.30L412.59 31.20L420.07 33.00L427.56 32.80L435.04 31.50L442.53 30.00L450.01 30.50L457.50 31.00L457.50 31.00L450.01 30.50L442.53 30.00L435.04 31.50L427.56 32.80L420.07 33.00L412.59 31.20L405.10 29.30L397.62 27.50L390.13 19.50L382.65 19.50L375.16 19.50L367.67 19.50L360.19 19.50L352.70 19.50L345.22 19.50L337.73 19.50L330.25 19.50L322.76 19.50L315.28 19.50L307.79 19.50L300.31 19.50L292.82 19.50L285.33 19.50L277.85 19.50L270.36 19.50L262.88 19.50L255.39 19.50L247.91 19.50L240.42 19.50L232.94 19.50L225.45 20.30L217.97 21.70L210.48 22.50L202.99 23.30L195.51 25.00L188.02 27.50L180.54 29.20L173.05 30.00L165.57 29.70L158.08 29.20L150.60 27.00L143.11 26.00L135.63 23.50L128.14 22.00L120.65 22.00L113.17 22.50L105.68 24.50L98.20 27.00L90.71 29.70L83.23 33.00L75.74 38.00L68.26 59.00L60.77 78.00L53.29 94.50L45.80 95.20Z" fill="url(#h_lo)" stroke="#000" stroke-width="0.9"/>
<path d="M45.80 82.50L53.29 71.50L60.77 59.00L68.26 51.00L75.74 32.50L83.23 27.00L90.71 24.50L98.20 22.00L105.68 19.50L113.17 19.50L120.65 19.50L128.14 19.50L135.63 22.80L143.11 25.30L150.60 26.30L158.08 26.80L165.57 29.00L173.05 29.70L180.54 29.00L188.02 27.40L195.51 24.90L202.99 23.20L210.48 22.40L217.97 21.60L225.45 20.30L232.94 19.50L240.42 19.50L247.91 19.50L255.39 19.50L262.88 19.50L270.36 19.50L277.85 19.50L285.33 19.50L292.82 19.50L300.31 19.50L307.79 19.50L315.28 19.50L322.76 19.50L330.25 19.50L337.73 19.50L345.22 19.50L352.70 19.50L360.19 19.50L367.67 19.50L375.16 19.50L382.65 19.50L390.13 19.50L397.62 19.80L405.10 19.80L412.59 19.80L420.07 19.80L427.56 19.80L435.04 19.80L442.53 19.80L450.01 21.50L457.50 24.00L457.50 31.00L450.01 30.50L442.53 30.00L435.04 31.50L427.56 32.80L420.07 33.00L412.59 31.20L405.10 29.30L397.62 27.50L390.13 19.50L382.65 19.50L375.16 19.50L367.67 19.50L360.19 19.50L352.70 19.50L345.22 19.50L337.73 19.50L330.25 19.50L322.76 19.50L315.28 19.50L307.79 19.50L300.31 19.50L292.82 19.50L285.33 19.50L277.85 19.50L270.36 19.50L262.88 19.50L255.39 19.50L247.91 19.50L240.42 19.50L232.94 19.50L225.45 20.30L217.97 21.60L210.48 22.40L202.99 23.20L195.51 24.90L188.02 27.40L180.54 29.00L173.05 29.70L165.57 29.00L158.08 26.80L150.60 26.30L143.11 25.30L135.63 22.80L128.14 19.50L120.65 19.50L113.17 19.50L105.68 19.50L98.20 22.00L90.71 24.50L83.23 27.00L75.74 32.50L68.26 51.00L60.77 59.00L53.29 71.50L45.80 82.50Z" fill="#bf00bf" stroke="none"/>
<path d="M45.80 82.50L53.29 71.50L60.77 59.00L68.26 51.00L75.74 32.50L83.23 27.00L90.71 24.50L98.20 22.00L105.68 19.50L113.17 19.50L120.65 19.50L128.14 19.50L135.63 22.80L143.11 25.30L150.60 26.30L158.08 26.80L165.57 29.00L173.05 29.70L180.54 29.00L188.02 27.40L195.51 24.90L202.99 23.20L210.48 22.40L217.97 21.60L225.45 20.30L232.94 19.50L240.42 19.50L247.91 19.50L255.39 19.50L262.88 19.50L270.36 19.50L277.85 19.50L285.33 19.50L292.82 19.50L300.31 19.50L307.79 19.50L315.28 19.50L322.76 19.50L330.25 19.50L337.73 19.50L345.22 19.50L352.70 19.50L360.19 19.50L367.67 19.50L375.16 19.50L382.65 19.50L390.13 19.50L397.62 19.80L405.10 19.80L412.59 19.80L420.07 19.80L427.56 19.80L435.04 19.80L442.53 19.80L450.01 21.50L457.50 24.00L457.50 31.00L450.01 30.50L442.53 30.00L435.04 31.50L427.56 32.80L420.07 33.00L412.59 31.20L405.10 29.30L397.62 27.50L390.13 19.50L382.65 19.50L375.16 19.50L367.67 19.50L360.19 19.50L352.70 19.50L345.22 19.50L337.73 19.50L330.25 19.50L322.76 19.50L315.28 19.50L307.79 19.50L300.31 19.50L292.82 19.50L285.33 19.50L277.85 19.50L270.36 19.50L262.88 19.50L255.39 19.50L247.91 19.50L240.42 19.50L232.94 19.50L225.45 20.30L217.97 21.60L210.48 22.40L202.99 23.20L195.51 24.90L188.02 27.40L180.54 29.00L173.05 29.70L165.57 29.00L158.08 26.80L150.60 26.30L143.11 25.30L135.63 22.80L128.14 19.50L120.65 19.50L113.17 19.50L105.68 19.50L98.20 22.00L90.71 24.50L83.23 27.00L75.74 32.50L68.26 51.00L60.77 59.00L53.29 71.50L45.80 82.50Z" fill="url(#h_dt)" stroke="#000" stroke-width="0.9"/>
<path d="M45.80 82.50L53.29 71.50L60.77 59.00L68.26 51.00L75.74 32.50L83.23 27.00L90.71 24.50L98.20 22.00L105.68 19.50L113.17 19.50L120.65 19.50L128.14 19.50L135.63 19.50L143.11 19.50L150.60 19.50L158.08 19.50L165.57 19.50L173.05 19.50L180.54 19.50L188.02 19.50L195.51 19.50L202.99 19.50L210.48 19.50L217.97 19.50L225.45 19.50L232.94 19.50L240.42 19.50L247.91 19.50L255.39 19.50L262.88 19.50L270.36 19.50L277.85 19.50L285.33 19.50L292.82 19.50L300.31 19.50L307.79 19.50L315.28 19.50L322.76 19.50L330.25 19.50L337.73 19.50L345.22 19.50L352.70 19.50L360.19 19.50L367.67 19.50L375.16 19.50L382.65 19.50L390.13 19.50L397.62 19.80L405.10 19.80L412.59 19.80L420.07 19.80L427.56 19.80L435.04 19.80L442.53 19.80L450.01 21.50L457.50 24.00L457.50 24.00L450.01 21.50L442.53 19.80L435.04 19.80L427.56 19.80L420.07 19.80L412.59 19.80L405.10 19.80L397.62 19.80L390.13 19.50L382.65 19.50L375.16 19.50L367.67 19.50L360.19 19.50L352.70 19.50L345.22 19.50L337.73 19.50L330.25 19.50L322.76 19.50L315.28 19.50L307.79 19.50L300.31 19.50L292.82 19.50L285.33 19.50L277.85 19.50L270.36 19.50L262.88 19.50L255.39 19.50L247.91 19.50L240.42 19.50L232.94 19.50L225.45 20.30L217.97 21.60L210.48 22.40L202.99 23.20L195.51 24.90L188.02 27.40L180.54 29.00L173.05 29.70L165.57 29.00L158.08 26.80L150.60 26.30L143.11 25.30L135.63 22.80L128.14 19.50L120.65 19.50L113.17 19.50L105.68 19.50L98.20 22.00L90.71 24.50L83.23 27.00L75.74 32.50L68.26 51.00L60.77 59.00L53.29 71.50L45.80 82.50Z" fill="#ff0000" stroke="none"/>
<path d="M45.80 82.50L53.29 71.50L60.77 59.00L68.26 51.00L75.74 32.50L83.23 27.00L90.71 24.50L98.20 22.00L105.68 19.50L113.17 19.50L120.65 19.50L128.14 19.50L135.63 19.50L143.11 19.50L150.60 19.50L158.08 19.50L165.57 19.50L173.05 19.50L180.54 19.50L188.02 19.50L195.51 19.50L202.99 19.50L210.48 19.50L217.97 19.50L225.45 19.50L232.94 19.50L240.42 19.50L247.91 19.50L255.39 19.50L262.88 19.50L270.36 19.50L277.85 19.50L285.33 19.50L292.82 19.50L300.31 19.50L307.79 19.50L315.28 19.50L322.76 19.50L330.25 19.50L337.73 19.50L345.22 19.50L352.70 19.50L360.19 19.50L367.67 19.50L375.16 19.50L382.65 19.50L390.13 19.50L397.62 19.80L405.10 19.80L412.59 19.80L420.07 19.80L427.56 19.80L435.04 19.80L442.53 19.80L450.01 21.50L457.50 24.00L457.50 24.00L450.01 21.50L442.53 19.80L435.04 19.80L427.56 19.80L420.07 19.80L412.59 19.80L405.10 19.80L397.62 19.80L390.13 19.50L382.65 19.50L375.16 19.50L367.67 19.50L360.19 19.50L352.70 19.50L345.22 19.50L337.73 19.50L330.25 19.50L322.76 19.50L315.28 19.50L307.79 19.50L300.31 19.50L292.82 19.50L285.33 19.50L277.85 19.50L270.36 19.50L262.88 19.50L255.39 19.50L247.91 19.50L240.42 19.50L232.94 19.50L225.45 20.30L217.97 21.60L210.48 22.40L202.99 23.20L195.51 24.90L188.02 27.40L180.54 29.00L173.05 29.70L165.57 29.00L158.08 26.80L150.60 26.30L143.11 25.30L135.63 22.80L128.14 19.50L120.65 19.50L113.17 19.50L105.68 19.50L98.20 22.00L90.71 24.50L83.23 27.00L75.74 32.50L68.26 51.00L60.77 59.00L53.29 71.50L45.80 82.50Z" fill="url(#h_ne)" stroke="#000" stroke-width="0.9"/>
<path d="M45.80 66.00L53.29 50.00L60.77 41.00L68.26 44.00L75.74 27.00L83.23 25.50L90.71 23.50L98.20 21.90L105.68 19.50L113.17 19.50L120.65 19.50L128.14 19.50L135.63 19.50L143.11 19.50L150.60 19.50L158.08 19.50L165.57 19.50L173.05 19.50L180.54 19.50L188.02 19.50L195.51 19.50L202.99 19.50L210.48 19.50L217.97 19.50L225.45 19.50L232.94 19.50L240.42 19.50L247.91 19.50L255.39 19.50L262.88 19.50L270.36 19.50L277.85 19.50L285.33 19.50L292.82 19.50L300.31 19.50L307.79 19.50L315.28 19.50L322.76 19.50L330.25 19.50L337.73 19.50L345.22 19.50L352.70 19.50L360.19 19.50L367.67 19.50L375.16 19.50L382.65 19.50L390.13 19.50L397.62 19.80L405.10 19.80L412.59 19.80L420.07 19.80L427.56 19.80L435.04 19.80L442.53 19.80L450.01 21.50L457.50 24.00L457.50 24.00L450.01 21.50L442.53 19.80L435.04 19.80L427.56 19.80L420.07 19.80L412.59 19.80L405.10 19.80L397.62 19.80L390.13 19.50L382.65 19.50L375.16 19.50L367.67 19.50L360.19 19.50L352.70 19.50L345.22 19.50L337.73 19.50L330.25 19.50L322.76 19.50L315.28 19.50L307.79 19.50L300.31 19.50L292.82 19.50L285.33 19.50L277.85 19.50L270.36 19.50L262.88 19.50L255.39 19.50L247.91 19.50L240.42 19.50L232.94 19.50L225.45 19.50L217.97 19.50L210.48 19.50L202.99 19.50L195.51 19.50L188.02 19.50L180.54 19.50L173.05 19.50L165.57 19.50L158.08 19.50L150.60 19.50L143.11 19.50L135.63 19.50L128.14 19.50L120.65 19.50L113.17 19.50L105.68 19.50L98.20 22.00L90.71 24.50L83.23 27.00L75.74 32.50L68.26 51.00L60.77 59.00L53.29 71.50L45.80 82.50Z" fill="#bfbf00" stroke="none"/>
<path d="M45.80 66.00L53.29 50.00L60.77 41.00L68.26 44.00L75.74 27.00L83.23 25.50L90.71 23.50L98.20 21.90L105.68 19.50L113.17 19.50L120.65 19.50L128.14 19.50L135.63 19.50L143.11 19.50L150.60 19.50L158.08 19.50L165.57 19.50L173.05 19.50L180.54 19.50L188.02 19.50L195.51 19.50L202.99 19.50L210.48 19.50L217.97 19.50L225.45 19.50L232.94 19.50L240.42 19.50L247.91 19.50L255.39 19.50L262.88 19.50L270.36 19.50L277.85 19.50L285.33 19.50L292.82 19.50L300.31 19.50L307.79 19.50L315.28 19.50L322.76 19.50L330.25 19.50L337.73 19.50L345.22 19.50L352.70 19.50L360.19 19.50L367.67 19.50L375.16 19.50L382.65 19.50L390.13 19.50L397.62 19.80L405.10 19.80L412.59 19.80L420.07 19.80L427.56 19.80L435.04 19.80L442.53 19.80L450.01 21.50L457.50 24.00L457.50 24.00L450.01 21.50L442.53 19.80L435.04 19.80L427.56 19.80L420.07 19.80L412.59 19.80L405.10 19.80L397.62 19.80L390.13 19.50L382.65 19.50L375.16 19.50L367.67 19.50L360.19 19.50L352.70 19.50L345.22 19.50L337.73 19.50L330.25 19.50L322.76 19.50L315.28 19.50L307.79 19.50L300.31 19.50L292.82 19.50L285.33 19.50L277.85 19.50L270.36 19.50L262.88 19.50L255.39 19.50L247.91 19.50L240.42 19.50L232.94 19.50L225.45 19.50L217.97 19.50L210.48 19.50L202.99 19.50L195.51 19.50L188.02 19.50L180.54 19.50L173.05 19.50L165.57 19.50L158.08 19.50L150.60 19.50L143.11 19.50L135.63 19.50L128.14 19.50L120.65 19.50L113.17 19.50L105.68 19.50L98.20 22.00L90.71 24.50L83.23 27.00L75.74 32.50L68.26 51.00L60.77 59.00L53.29 71.50L45.80 82.50Z" fill="url(#h_st)" stroke="#000" stroke-width="0.9"/>
<path d="M45.80 65.00L53.29 42.00L60.77 28.00L68.26 31.50L75.74 20.50L83.23 19.80L90.71 19.60L98.20 19.50L105.68 19.50L113.17 19.50L120.65 19.50L128.14 19.50L135.63 19.50L143.11 19.50L150.60 19.50L158.08 19.50L165.57 19.50L173.05 19.50L180.54 19.50L188.02 19.50L195.51 19.50L202.99 19.50L210.48 19.50L217.97 19.50L225.45 19.50L232.94 19.50L240.42 19.50L247.91 19.50L255.39 19.50L262.88 19.50L270.36 19.50L277.85 19.50L285.33 19.50L292.82 19.50L300.31 19.50L307.79 19.50L315.28 19.50L322.76 19.50L330.25 19.50L337.73 19.50L345.22 19.50L352.70 19.50L360.19 19.50L367.67 19.50L375.16 19.50L382.65 19.50L390.13 19.50L397.62 19.80L405.10 19.80L412.59 19.80L420.07 19.80L427.56 19.80L435.04 19.80L442.53 19.80L450.01 21.50L457.50 24.00L457.50 24.00L450.01 21.50L442.53 19.80L435.04 19.80L427.56 19.80L420.07 19.80L412.59 19.80L405.10 19.80L397.62 19.80L390.13 19.50L382.65 19.50L375.16 19.50L367.67 19.50L360.19 19.50L352.70 19.50L345.22 19.50L337.73 19.50L330.25 19.50L322.76 19.50L315.28 19.50L307.79 19.50L300.31 19.50L292.82 19.50L285.33 19.50L277.85 19.50L270.36 19.50L262.88 19.50L255.39 19.50L247.91 19.50L240.42 19.50L232.94 19.50L225.45 19.50L217.97 19.50L210.48 19.50L202.99 19.50L195.51 19.50L188.02 19.50L180.54 19.50L173.05 19.50L165.57 19.50L158.08 19.50L150.60 19.50L143.11 19.50L135.63 19.50L128.14 19.50L120.65 19.50L113.17 19.50L105.68 19.50L98.20 21.90L90.71 23.50L83.23 25.50L75.74 27.00L68.26 44.00L60.77 41.00L53.29 50.00L45.80 66.00Z" fill="#0000ff" stroke="none"/>
<path d="M45.80 65.00L53.29 42.00L60.77 28.00L68.26 31.50L75.74 20.50L83.23 19.80L90.71 19.60L98.20 19.50L105.68 19.50L113.17 19.50L120.65 19.50L128.14 19.50L135.63 19.50L143.11 19.50L150.60 19.50L158.08 19.50L165.57 19.50L173.05 19.50L180.54 19.50L188.02 19.50L195.51 19.50L202.99 19.50L210.48 19.50L217.97 19.50L225.45 19.50L232.94 19.50L240.42 19.50L247.91 19.50L255.39 19.50L262.88 19.50L270.36 19.50L277.85 19.50L285.33 19.50L292.82 19.50L300.31 19.50L307.79 19.50L315.28 19.50L322.76 19.50L330.25 19.50L337.73 19.50L345.22 19.50L352.70 19.50L360.19 19.50L367.67 19.50L375.16 19.50L382.65 19.50L390.13 19.50L397.62 19.80L405.10 19.80L412.59 19.80L420.07 19.80L427.56 19.80L435.04 19.80L442.53 19.80L450.01 21.50L457.50 24.00L457.50 24.00L450.01 21.50L442.53 19.80L435.04 19.80L427.56 19.80L420.07 19.80L412.59 19.80L405.10 19.80L397.62 19.80L390.13 19.50L382.65 19.50L375.16 19.50L367.67 19.50L360.19 19.50L352.70 19.50L345.22 19.50L337.73 19.50L330.25 19.50L322.76 19.50L315.28 19.50L307.79 19.50L300.31 19.50L292.82 19.50L285.33 19.50L277.85 19.50L270.36 19.50L262.88 19.50L255.39 19.50L247.91 19.50L240.42 19.50L232.94 19.50L225.45 19.50L217.97 19.50L210.48 19.50L202.99 19.50L195.51 19.50L188.02 19.50L180.54 19.50L173.05 19.50L165.57 19.50L158.08 19.50L150.60 19.50L143.11 19.50L135.63 19.50L128.14 19.50L120.65 19.50L113.17 19.50L105.68 19.50L98.20 21.90L90.71 23.50L83.23 25.50L75.74 27.00L68.26 44.00L60.77 41.00L53.29 50.00L45.80 66.00Z" fill="url(#h_se)" stroke="#000" stroke-width="0.9"/>
<path d="M45.80 34.50L53.29 37.50L60.77 28.00L68.26 30.00L75.74 20.50L83.23 19.80L90.71 19.60L98.20 19.50L105.68 19.50L113.17 19.50L120.65 19.50L128.14 19.50L135.63 19.50L143.11 19.50L150.60 19.50L158.08 19.50L165.57 19.50L173.05 19.50L180.54 19.50L188.02 19.50L195.51 19.50L202.99 19.50L210.48 19.50L217.97 19.50L225.45 19.50L232.94 19.50L240.42 19.50L247.91 19.50L255.39 19.50L262.88 19.50L270.36 19.50L277.85 19.50L285.33 19.50L292.82 19.50L300.31 19.50L307.79 19.50L315.28 19.50L322.76 19.50L330.25 19.50L337.73 19.50L345.22 19.50L352.70 19.50L360.19 19.50L367.67 19.50L375.16 19.50L382.65 19.50L390.13 19.50L397.62 19.80L405.10 19.80L412.59 19.80L420.07 19.80L427.56 19.80L435.04 19.80L442.53 19.80L450.01 21.50L457.50 24.00L457.50 24.00L450.01 21.50L442.53 19.80L435.04 19.80L427.56 19.80L420.07 19.80L412.59 19.80L405.10 19.80L397.62 19.80L390.13 19.50L382.65 19.50L375.16 19.50L367.67 19.50L360.19 19.50L352.70 19.50L345.22 19.50L337.73 19.50L330.25 19.50L322.76 19.50L315.28 19.50L307.79 19.50L300.31 19.50L292.82 19.50L285.33 19.50L277.85 19.50L270.36 19.50L262.88 19.50L255.39 19.50L247.91 19.50L240.42 19.50L232.94 19.50L225.45 19.50L217.97 19.50L210.48 19.50L202.99 19.50L195.51 19.50L188.02 19.50L180.54 19.50L173.05 19.50L165.57 19.50L158.08 19.50L150.60 19.50L143.11 19.50L135.63 19.50L128.14 19.50L120.65 19.50L113.17 19.50L105.68 19.50L98.20 19.50L90.71 19.60L83.23 19.80L75.74 20.50L68.26 31.50L60.77 28.00L53.29 42.00L45.80 65.00Z" fill="#00bfbf" stroke="none"/>
<path d="M45.80 34.50L53.29 37.50L60.77 28.00L68.26 30.00L75.74 20.50L83.23 19.80L90.71 19.60L98.20 19.50L105.68 19.50L113.17 19.50L120.65 19.50L128.14 19.50L135.63 19.50L143.11 19.50L150.60 19.50L158.08 19.50L165.57 19.50L173.05 19.50L180.54 19.50L188.02 19.50L195.51 19.50L202.99 19.50L210.48 19.50L217.97 19.50L225.45 19.50L232.94 19.50L240.42 19.50L247.91 19.50L255.39 19.50L262.88 19.50L270.36 19.50L277.85 19.50L285.33 19.50L292.82 19.50L300.31 19.50L307.79 19.50L315.28 19.50L322.76 19.50L330.25 19.50L337.73 19.50L345.22 19.50L352.70 19.50L360.19 19.50L367.67 19.50L375.16 19.50L382.65 19.50L390.13 19.50L397.62 19.80L405.10 19.80L412.59 19.80L420.07 19.80L427.56 19.80L435.04 19.80L442.53 19.80L450.01 21.50L457.50 24.00L457.50 24.00L450.01 21.50L442.53 19.80L435.04 19.80L427.56 19.80L420.07 19.80L412.59 19.80L405.10 19.80L397.62 19.80L390.13 19.50L382.65 19.50L375.16 19.50L367.67 19.50L360.19 19.50L352.70 19.50L345.22 19.50L337.73 19.50L330.25 19.50L322.76 19.50L315.28 19.50L307.79 19.50L300.31 19.50L292.82 19.50L285.33 19.50L277.85 19.50L270.36 19.50L262.88 19.50L255.39 19.50L247.91 19.50L240.42 19.50L232.94 19.50L225.45 19.50L217.97 19.50L210.48 19.50L202.99 19.50L195.51 19.50L188.02 19.50L180.54 19.50L173.05 19.50L165.57 19.50L158.08 19.50L150.60 19.50L143.11 19.50L135.63 19.50L128.14 19.50L120.65 19.50L113.17 19.50L105.68 19.50L98.20 19.50L90.71 19.60L83.23 19.80L75.74 20.50L68.26 31.50L60.77 28.00L53.29 42.00L45.80 65.00Z" fill="url(#h_so)" stroke="#000" stroke-width="0.9"/>
<path d="M45.80 23.30L53.29 28.20L60.77 24.50L68.26 22.00L75.74 20.00L83.23 19.80L90.71 19.60L98.20 19.50L105.68 19.50L113.17 19.50L120.65 19.50L128.14 19.50L135.63 19.50L143.11 19.50L150.60 19.50L158.08 19.50L165.57 19.50L173.05 19.50L180.54 19.50L188.02 19.50L195.51 19.50L202.99 19.50L210.48 19.50L217.97 19.50L225.45 19.50L232.94 19.50L240.42 19.50L247.91 19.50L255.39 19.50L262.88 19.50L270.36 19.50L277.85 19.50L285.33 19.50L292.82 19.50L300.31 19.50L307.79 19.50L315.28 19.50L322.76 19.50L330.25 19.50L337.73 19.50L345.22 19.50L352.70 19.50L360.19 19.50L367.67 19.50L375.16 19.50L382.65 19.50L390.13 19.50L397.62 19.80L405.10 19.80L412.59 19.80L420.07 19.80L427.56 19.80L435.04 19.80L442.53 19.80L450.01 21.50L457.50 24.00L457.50 24.00L450.01 21.50L442.53 19.80L435.04 19.80L427.56 19.80L420.07 19.80L412.59 19.80L405.10 19.80L397.62 19.80L390.13 19.50L382.65 19.50L375.16 19.50L367.67 19.50L360.19 19.50L352.70 19.50L345.22 19.50L337.73 19.50L330.25 19.50L322.76 19.50L315.28 19.50L307.79 19.50L300.31 19.50L292.82 19.50L285.33 19.50L277.85 19.50L270.36 19.50L262.88 19.50L255.39 19.50L247.91 19.50L240.42 19.50L232.94 19.50L225.45 19.50L217.97 19.50L210.48 19.50L202.99 19.50L195.51 19.50L188.02 19.50L180.54 19.50L173.05 19.50L165.57 19.50L158.08 19.50L150.60 19.50L143.11 19.50L135.63 19.50L128.14 19.50L120.65 19.50L113.17 19.50L105.68 19.50L98.20 19.50L90.71 19.60L83.23 19.80L75.74 20.50L68.26 30.00L60.77 28.00L53.29 37.50L45.80 34.50Z" fill="#008000" stroke="none"/>
<path d="M45.80 23.30L53.29 28.20L60.77 24.50L68.26 22.00L75.74 20.00L83.23 19.80L90.71 19.60L98.20 19.50L105.68 19.50L113.17 19.50L120.65 19.50L128.14 19.50L135.63 19.50L143.11 19.50L150.60 19.50L158.08 19.50L165.57 19.50L173.05 19.50L180.54 19.50L188.02 19.50L195.51 19.50L202.99 19.50L210.48 19.50L217.97 19.50L225.45 19.50L232.94 19.50L240.42 19.50L247.91 19.50L255.39 19.50L262.88 19.50L270.36 19.50L277.85 19.50L285.33 19.50L292.82 19.50L300.31 19.50L307.79 19.50L315.28 19.50L322.76 19.50L330.25 19.50L337.73 19.50L345.22 19.50L352.70 19.50L360.19 19.50L367.67 19.50L375.16 19.50L382.65 19.50L390.13 19.50L397.62 19.80L405.10 19.80L412.59 19.80L420.07 19.80L427.56 19.80L435.04 19.80L442.53 19.80L450.01 21.50L457.50 24.00L457.50 24.00L450.01 21.50L442.53 19.80L435.04 19.80L427.56 19.80L420.07 19.80L412.59 19.80L405.10 19.80L397.62 19.80L390.13 19.50L382.65 19.50L375.16 19.50L367.67 19.50L360.19 19.50L352.70 19.50L345.22 19.50L337.73 19.50L330.25 19.50L322.76 19.50L315.28 19.50L307.79 19.50L300.31 19.50L292.82 19.50L285.33 19.50L277.85 19.50L270.36 19.50L262.88 19.50L255.39 19.50L247.91 19.50L240.42 19.50L232.94 19.50L225.45 19.50L217.97 19.50L210.48 19.50L202.99 19.50L195.51 19.50L188.02 19.50L180.54 19.50L173.05 19.50L165.57 19.50L158.08 19.50L150.60 19.50L143.11 19.50L135.63 19.50L128.14 19.50L120.65 19.50L113.17 19.50L105.68 19.50L98.20 19.50L90.71 19.60L83.23 19.80L75.74 20.50L68.26 30.00L60.77 28.00L53.29 37.50L45.80 34.50Z" fill="url(#h_xx)" stroke="#000" stroke-width="0.9"/>
<path d="M45.80 23.30L53.29 28.20L60.77 24.50L68.26 22.00L75.74 20.00L83.23 19.80L90.71 19.60L98.20 19.50L105.68 19.50L113.17 19.50L120.65 19.50L128.14 19.50L135.63 19.50L143.11 19.50L150.60 19.50L158.08 19.50L165.57 19.50L173.05 19.50L180.54 19.50L188.02 19.50L195.51 19.50L202.99 19.50L210.48 19.50L217.97 19.50L225.45 19.50L232.94 19.50L240.42 19.50L247.91 19.50L255.39 19.50L262.88 19.50L270.36 19.50L277.85 19.50L285.33 19.50L292.82 19.50L300.31 19.50L307.79 19.50L315.28 19.50L322.76 19.50L330.25 19.50L337.73 19.50L345.22 19.50L352.70 19.50L360.19 19.50L367.67 19.50L375.16 19.50L382.65 19.50L390.13 19.50L397.62 19.80L405.10 19.80L412.59 19.80L420.07 19.80L427.56 19.80L435.04 19.80L442.53 19.80L450.01 21.50L457.50 24.00L457.50 24.00L450.01 21.50L442.53 19.80L435.04 19.80L427.56 19.80L420.07 19.80L412.59 19.80L405.10 19.80L397.62 19.80L390.13 19.50L382.65 19.50L375.16 19.50L367.67 19.50L360.19 19.50L352.70 19.50L345.22 19.50L337.73 19.50L330.25 19.50L322.76 19.50L315.28 19.50L307.79 19.50L300.31 19.50L292.82 19.50L285.33 19.50L277.85 19.50L270.36 19.50L262.88 19.50L255.39 19.50L247.91 19.50L240.42 19.50L232.94 19.50L225.45 19.50L217.97 19.50L210.48 19.50L202.99 19.50L195.51 19.50L188.02 19.50L180.54 19.50L173.05 19.50L165.57 19.50L158.08 19.50L150.60 19.50L143.11 19.50L135.63 19.50L128.14 19.50L120.65 19.50L113.17 19.50L105.68 19.50L98.20 19.50L90.71 19.60L83.23 19.80L75.74 20.00L68.26 22.00L60.77 24.50L53.29 28.20L45.80 23.30Z" fill="#bf00bf" stroke="none"/>
<path d="M45.80 23.30L53.29 28.20L60.77 24.50L68.26 22.00L75.74 20.00L83.23 19.80L90.71 19.60L98.20 19.50L105.68 19.50L113.17 19.50L120.65 19.50L128.14 19.50L135.63 19.50L143.11 19.50L150.60 19.50L158.08 19.50L165.57 19.50L173.05 19.50L180.54 19.50L188.02 19.50L195.51 19.50L202.99 19.50L210.48 19.50L217.97 19.50L225.45 19.50L232.94 19.50L240.42 19.50L247.91 19.50L255.39 19.50L262.88 19.50L270.36 19.50L277.85 19.50L285.33 19.50L292.82 19.50L300.31 19.50L307.79 19.50L315.28 19.50L322.76 19.50L330.25 19.50L337.73 19.50L345.22 19.50L352.70 19.50L360.19 19.50L367.67 19.50L375.16 19.50L382.65 19.50L390.13 19.50L397.62 19.80L405.10 19.80L412.59 19.80L420.07 19.80L427.56 19.80L435.04 19.80L442.53 19.80L450.01 21.50L457.50 24.00L457.50 24.00L450.01 21.50L442.53 19.80L435.04 19.80L427.56 19.80L420.07 19.80L412.59 19.80L405.10 19.80L397.62 19.80L390.13 19.50L382.65 19.50L375.16 19.50L367.67 19.50L360.19 19.50L352.70 19.50L345.22 19.50L337.73 19.50L330.25 19.50L322.76 19.50L315.28 19.50L307.79 19.50L300.31 19.50L292.82 19.50L285.33 19.50L277.85 19.50L270.36 19.50L262.88 19.50L255.39 19.50L247.91 19.50L240.42 19.50L232.94 19.50L225.45 19.50L217.97 19.50L210.48 19.50L202.99 19.50L195.51 19.50L188.02 19.50L180.54 19.50L173.05 19.50L165.57 19.50L158.08 19.50L150.60 19.50L143.11 19.50L135.63 19.50L128.14 19.50L120.65 19.50L113.17 19.50L105.68 19.50L98.20 19.50L90.71 19.60L83.23 19.80L75.74 20.00L68.26 22.00L60.77 24.50L53.29 28.20L45.80 23.30Z" fill="url(#h_lo)" stroke="#000" stroke-width="0.9"/>
<path d="M45.80 22.00L53.29 22.00L60.77 21.30L68.26 20.50L75.74 19.80L83.23 19.80L90.71 19.60L98.20 19.50L105.68 19.50L113.17 19.50L120.65 19.50L128.14 19.50L135.63 19.50L143.11 19.50L150.60 19.50L158.08 19.50L165.57 19.50L173.05 19.50L180.54 19.50L188.02 19.50L195.51 19.50L202.99 19.50L210.48 19.50L217.97 19.50L225.45 19.50L232.94 19.50L240.42 19.50L247.91 19.50L255.39 19.50L262.88 19.50L270.36 19.50L277.85 19.50L285.33 19.50L292.82 19.50L300.31 19.50L307.79 19.50L315.28 19.50L322.76 19.50L330.25 19.50L337.73 19.50L345.22 19.50L352.70 19.50L360.19 19.50L367.67 19.50L375.16 19.50L382.65 19.50L390.13 19.50L397.62 19.80L405.10 19.80L412.59 19.80L420.07 19.80L427.56 19.80L435.04 19.80L442.53 19.80L450.01 21.50L457.50 24.00L457.50 24.00L450.01 21.50L442.53 19.80L435.04 19.80L427.56 19.80L420.07 19.80L412.59 19.80L405.10 19.80L397.62 19.80L390.13 19.50L382.65 19.50L375.16 19.50L367.67 19.50L360.19 19.50L352.70 19.50L345.22 19.50L337.73 19.50L330.25 19.50L322.76 19.50L315.28 19.50L307.79 19.50L300.31 19.50L292.82 19.50L285.33 19.50L277.85 19.50L270.36 19.50L262.88 19.50L255.39 19.50L247.91 19.50L240.42 19.50L232.94 19.50L225.45 19.50L217.97 19.50L210.48 19.50L202.99 19.50L195.51 19.50L188.02 19.50L180.54 19.50L173.05 19.50L165.57 19.50L158.08 19.50L150.60 19.50L143.11 19.50L135.63 19.50L128.14 19.50L120.65 19.50L113.17 19.50L105.68 19.50L98.20 19.50L90.71 19.60L83.23 19.80L75.74 20.00L68.26 22.00L60.77 24.50L53.29 28.20L45.80 23.30Z" fill="#ff0000" stroke="none"/>
<path d="M45.80 22.00L53.29 22.00L60.77 21.30L68.26 20.50L75.74 19.80L83.23 19.80L90.71 19.60L98.20 19.50L105.68 19.50L113.17 19.50L120.65 19.50L128.14 19.50L135.63 19.50L143.11 19.50L150.60 19.50L158.08 19.50L165.57 19.50L173.05 19.50L180.54 19.50L188.02 19.50L195.51 19.50L202.99 19.50L210.48 19.50L217.97 19.50L225.45 19.50L232.94 19.50L240.42 19.50L247.91 19.50L255.39 19.50L262.88 19.50L270.36 19.50L277.85 19.50L285.33 19.50L292.82 19.50L300.31 19.50L307.79 19.50L315.28 19.50L322.76 19.50L330.25 19.50L337.73 19.50L345.22 19.50L352.70 19.50L360.19 19.50L367.67 19.50L375.16 19.50L382.65 19.50L390.13 19.50L397.62 19.80L405.10 19.80L412.59 19.80L420.07 19.80L427.56 19.80L435.04 19.80L442.53 19.80L450.01 21.50L457.50 24.00L457.50 24.00L450.01 21.50L442.53 19.80L435.04 19.80L427.56 19.80L420.07 19.80L412.59 19.80L405.10 19.80L397.62 19.80L390.13 19.50L382.65 19.50L375.16 19.50L367.67 19.50L360.19 19.50L352.70 19.50L345.22 19.50L337.73 19.50L330.25 19.50L322.76 19.50L315.28 19.50L307.79 19.50L300.31 19.50L292.82 19.50L285.33 19.50L277.85 19.50L270.36 19.50L262.88 19.50L255.39 19.50L247.91 19.50L240.42 19.50L232.94 19.50L225.45 19.50L217.97 19.50L210.48 19.50L202.99 19.50L195.51 19.50L188.02 19.50L180.54 19.50L173.05 19.50L165.57 19.50L158.08 19.50L150.60 19.50L143.11 19.50L135.63 19.50L128.14 19.50L120.65 19.50L113.17 19.50L105.68 19.50L98.20 19.50L90.71 19.60L83.23 19.80L75.74 20.00L68.26 22.00L60.77 24.50L53.29 28.20L45.80 23.30Z" fill="url(#h_dt)" stroke="#000" stroke-width="0.9"/>
<path d="M45.80 20.50L53.29 20.50L60.77 20.30L68.26 20.00L75.74 19.80L83.23 19.80L90.71 19.60L98.20 19.50L105.68 19.50L113.17 19.50L120.65 19.50L128.14 19.50L135.63 19.50L143.11 19.50L150.60 19.50L158.08 19.50L165.57 19.50L173.05 19.50L180.54 19.50L188.02 19.50L195.51 19.50L202.99 19.50L210.48 19.50L217.97 19.50L225.45 19.50L232.94 19.50L240.42 19.50L247.91 19.50L255.39 19.50L262.88 19.50L270.36 19.50L277.85 19.50L285.33 19.50L292.82 19.50L300.31 19.50L307.79 19.50L315.28 19.50L322.76 19.50L330.25 19.50L337.73 19.50L345.22 19.50L352.70 19.50L360.19 19.50L367.67 19.50L375.16 19.50L382.65 19.50L390.13 19.50L397.62 19.80L405.10 19.80L412.59 19.80L420.07 19.80L427.56 19.80L435.04 19.80L442.53 19.80L450.01 21.50L457.50 24.00L457.50 24.00L450.01 21.50L442.53 19.80L435.04 19.80L427.56 19.80L420.07 19.80L412.59 19.80L405.10 19.80L397.62 19.80L390.13 19.50L382.65 19.50L375.16 19.50L367.67 19.50L360.19 19.50L352.70 19.50L345.22 19.50L337.73 19.50L330.25 19.50L322.76 19.50L315.28 19.50L307.79 19.50L300.31 19.50L292.82 19.50L285.33 19.50L277.85 19.50L270.36 19.50L262.88 19.50L255.39 19.50L247.91 19.50L240.42 19.50L232.94 19.50L225.45 19.50L217.97 19.50L210.48 19.50L202.99 19.50L195.51 19.50L188.02 19.50L180.54 19.50L173.05 19.50L165.57 19.50L158.08 19.50L150.60 19.50L143.11 19.50L135.63 19.50L128.14 19.50L120.65 19.50L113.17 19.50L105.68 19.50L98.20 19.50L90.71 19.60L83.23 19.80L75.74 19.80L68.26 20.50L60.77 21.30L53.29 22.00L45.80 22.00Z" fill="#bfbf00" stroke="none"/>
<path d="M45.80 20.50L53.29 20.50L60.77 20.30L68.26 20.00L75.74 19.80L83.23 19.80L90.71 19.60L98.20 19.50L105.68 19.50L113.17 19.50L120.65 19.50L128.14 19.50L135.63 19.50L143.11 19.50L150.60 19.50L158.08 19.50L165.57 19.50L173.05 19.50L180.54 19.50L188.02 19.50L195.51 19.50L202.99 19.50L210.48 19.50L217.97 19.50L225.45 19.50L232.94 19.50L240.42 19.50L247.91 19.50L255.39 19.50L262.88 19.50L270.36 19.50L277.85 19.50L285.33 19.50L292.82 19.50L300.31 19.50L307.79 19.50L315.28 19.50L322.76 19.50L330.25 19.50L337.73 19.50L345.22 19.50L352.70 19.50L360.19 19.50L367.67 19.50L375.16 19.50L382.65 19.50L390.13 19.50L397.62 19.80L405.10 19.80L412.59 19.80L420.07 19.80L427.56 19.80L435.04 19.80L442.53 19.80L450.01 21.50L457.50 24.00L457.50 24.00L450.01 21.50L442.53 19.80L435.04 19.80L427.56 19.80L420.07 19.80L412.59 19.80L405.10 19.80L397.62 19.80L390.13 19.50L382.65 19.50L375.16 19.50L367.67 19.50L360.19 19.50L352.70 19.50L345.22 19.50L337.73 19.50L330.25 19.50L322.76 19.50L315.28 19.50L307.79 19.50L300.31 19.50L292.82 19.50L285.33 19.50L277.85 19.50L270.36 19.50L262.88 19.50L255.39 19.50L247.91 19.50L240.42 19.50L232.94 19.50L225.45 19.50L217.97 19.50L210.48 19.50L202.99 19.50L195.51 19.50L188.02 19.50L180.54 19.50L173.05 19.50L165.57 19.50L158.08 19.50L150.60 19.50L143.11 19.50L135.63 19.50L128.14 19.50L120.65 19.50L113.17 19.50L105.68 19.50L98.20 19.50L90.71 19.60L83.23 19.80L75.74 19.80L68.26 20.50L60.77 21.30L53.29 22.00L45.80 22.00Z" fill="url(#h_ne)" stroke="#000" stroke-width="0.9"/>
<path d="M45.80 20.50L53.29 20.50L60.77 20.30L68.26 20.00L75.74 19.80L83.23 19.80L90.71 19.60L98.20 19.50L105.68 19.50L113.17 19.50L120.65 19.50L128.14 19.50L135.63 19.50L143.11 19.50L150.60 19.50L158.08 19.50L165.57 19.50L173.05 19.50L180.54 19.50L188.02 19.50L195.51 19.50L202.99 19.50L210.48 19.50L217.97 19.50L225.45 19.50L232.94 19.50L240.42 19.50L247.91 19.50L255.39 19.50L262.88 19.50L270.36 19.50L277.85 19.50L285.33 19.50L292.82 19.50L300.31 19.50L307.79 19.50L315.28 19.50L322.76 19.50L330.25 19.50L337.73 19.50L345.22 19.50L352.70 19.50L360.19 19.50L367.67 19.50L375.16 19.50L382.65 19.50L390.13 19.50L397.62 19.50L405.10 19.50L412.59 19.50L420.07 19.50L427.56 19.50L435.04 19.50L442.53 19.50L450.01 21.00L457.50 23.20L457.50 24.00L450.01 21.50L442.53 19.80L435.04 19.80L427.56 19.80L420.07 19.80L412.59 19.80L405.10 19.80L397.62 19.80L390.13 19.50L382.65 19.50L375.16 19.50L367.67 19.50L360.19 19.50L352.70 19.50L345.22 19.50L337.73 19.50L330.25 19.50L322.76 19.50L315.28 19.50L307.79 19.50L300.31 19.50L292.82 19.50L285.33 19.50L277.85 19.50L270.36 19.50L262.88 19.50L255.39 19.50L247.91 19.50L240.42 19.50L232.94 19.50L225.45 19.50L217.97 19.50L210.48 19.50L202.99 19.50L195.51 19.50L188.02 19.50L180.54 19.50L173.05 19.50L165.57 19.50L158.08 19.50L150.60 19.50L143.11 19.50L135.63 19.50L128.14 19.50L120.65 19.50L113.17 19.50L105.68 19.50L98.20 19.50L90.71 19.60L83.23 19.80L75.74 19.80L68.26 20.00L60.77 20.30L53.29 20.50L45.80 20.50Z" fill="#0000ff" stroke="none"/>
<path d="M45.80 20.50L53.29 20.50L60.77 20.30L68.26 20.00L75.74 19.80L83.23 19.80L90.71 19.60L98.20 19.50L105.68 19.50L113.17 19.50L120.65 19.50L128.14 19.50L135.63 19.50L143.11 19.50L150.60 19.50L158.08 19.50L165.57 19.50L173.05 19.50L180.54 19.50L188.02 19.50L195.51 19.50L202.99 19.50L210.48 19.50L217.97 19.50L225.45 19.50L232.94 19.50L240.42 19.50L247.91 19.50L255.39 19.50L262.88 19.50L270.36 19.50L277.85 19.50L285.33 19.50L292.82 19.50L300.31 19.50L307.79 19.50L315.28 19.50L322.76 19.50L330.25 19.50L337.73 19.50L345.22 19.50L352.70 19.50L360.19 19.50L367.67 19.50L375.16 19.50L382.65 19.50L390.13 19.50L397.62 19.50L405.10 19.50L412.59 19.50L420.07 19.50L427.56 19.50L435.04 19.50L442.53 19.50L450.01 21.00L457.50 23.20L457.50 24.00L450.01 21.50L442.53 19.80L435.04 19.80L427.56 19.80L420.07 19.80L412.59 19.80L405.10 19.80L397.62 19.80L390.13 19.50L382.65 19.50L375.16 19.50L367.67 19.50L360.19 19.50L352.70 19.50L345.22 19.50L337.73 19.50L330.25 19.50L322.76 19.50L315.28 19.50L307.79 19.50L300.31 19.50L292.82 19.50L285.33 19.50L277.85 19.50L270.36 19.50L262.88 19.50L255.39 19.50L247.91 19.50L240.42 19.50L232.94 19.50L225.45 19.50L217.97 19.50L210.48 19.50L202.99 19.50L195.51 19.50L188.02 19.50L180.54 19.50L173.05 19.50L165.57 19.50L158.08 19.50L150.60 19.50L143.11 19.50L135.63 19.50L128.14 19.50L120.65 19.50L113.17 19.50L105.68 19.50L98.20 19.50L90.71 19.60L83.23 19.80L75.74 19.80L68.26 20.00L60.77 20.30L53.29 20.50L45.80 20.50Z" fill="url(#h_st)" stroke="#000" stroke-width="0.9"/>
<path d="M45.80 20.50L53.29 20.50L60.77 20.30L68.26 20.00L75.74 19.80L83.23 19.80L90.71 19.60L98.20 19.50L105.68 19.50L113.17 19.50L120.65 19.50L128.14 19.50L135.63 19.50L143.11 19.50L150.60 19.50L158.08 19.50L165.57 19.50L173.05 19.50L180.54 19.50L188.02 19.50L195.51 19.50L202.99 19.50L210.48 19.50L217.97 19.50L225.45 19.50L232.94 19.50L240.42 19.50L247.91 19.50L255.39 19.50L262.88 19.50L270.36 19.50L277.85 19.50L285.33 19.50L292.82 19.50L300.31 19.50L307.79 19.50L315.28 19.50L322.76 19.50L330.25 19.50L337.73 19.50L345.22 19.50L352.70 19.50L360.19 19.50L367.67 19.50L375.16 19.50L382.65 19.50L390.13 19.50L397.62 19.50L405.10 19.50L412.59 19.50L420.07 19.50L427.56 19.50L435.04 19.50L442.53 19.50L450.01 20.30L457.50 21.50L457.50 23.20L450.01 21.00L442.53 19.50L435.04 19.50L427.56 19.50L420.07 19.50L412.59 19.50L405.10 19.50L397.62 19.50L390.13 19.50L382.65 19.50L375.16 19.50L367.67 19.50L360.19 19.50L352.70 19.50L345.22 19.50L337.73 19.50L330.25 19.50L322.76 19.50L315.28 19.50L307.79 19.50L300.31 19.50L292.82 19.50L285.33 19.50L277.85 19.50L270.36 19.50L262.88 19.50L255.39 19.50L247.91 19.50L240.42 19.50L232.94 19.50L225.45 19.50L217.97 19.50L210.48 19.50L202.99 19.50L195.51 19.50L188.02 19.50L180.54 19.50L173.05 19.50L165.57 19.50L158.08 19.50L150.60 19.50L143.11 19.50L135.63 19.50L128.14 19.50L120.65 19.50L113.17 19.50L105.68 19.50L98.20 19.50L90.71 19.60L83.23 19.80L75.74 19.80L68.26 20.00L60.77 20.30L53.29 20.50L45.80 20.50Z" fill="#00bfbf" stroke="none"/>
<path d="M45.80 20.50L53.29 20.50L60.77 20.30L68.26 20.00L75.74 19.80L83.23 19.80L90.71 19.60L98.20 19.50L105.68 19.50L113.17 19.50L120.65 19.50L128.14 19.50L135.63 19.50L143.11 19.50L150.60 19.50L158.08 19.50L165.57 19.50L173.05 19.50L180.54 19.50L188.02 19.50L195.51 19.50L202.99 19.50L210.48 19.50L217.97 19.50L225.45 19.50L232.94 19.50L240.42 19.50L247.91 19.50L255.39 19.50L262.88 19.50L270.36 19.50L277.85 19.50L285.33 19.50L292.82 19.50L300.31 19.50L307.79 19.50L315.28 19.50L322.76 19.50L330.25 19.50L337.73 19.50L345.22 19.50L352.70 19.50L360.19 19.50L367.67 19.50L375.16 19.50L382.65 19.50L390.13 19.50L397.62 19.50L405.10 19.50L412.59 19.50L420.07 19.50L427.56 19.50L435.04 19.50L442.53 19.50L450.01 20.30L457.50 21.50L457.50 23.20L450.01 21.00L442.53 19.50L435.04 19.50L427.56 19.50L420.07 19.50L412.59 19.50L405.10 19.50L397.62 19.50L390.13 19.50L382.65 19.50L375.16 19.50L367.67 19.50L360.19 19.50L352.70 19.50L345.22 19.50L337.73 19.50L330.25 19.50L322.76 19.50L315.28 19.50L307.79 19.50L300.31 19.50L292.82 19.50L285.33 19.50L277.85 19.50L270.36 19.50L262.88 19.50L255.39 19.50L247.91 19.50L240.42 19.50L232.94 19.50L225.45 19.50L217.97 19.50L210.48 19.50L202.99 19.50L195.51 19.50L188.02 19.50L180.54 19.50L173.05 19.50L165.57 19.50L158.08 19.50L150.60 19.50L143.11 19.50L135.63 19.50L128.14 19.50L120.65 19.50L113.17 19.50L105.68 19.50L98.20 19.50L90.71 19.60L83.23 19.80L75.74 19.80L68.26 20.00L60.77 20.30L53.29 20.50L45.80 20.50Z" fill="url(#h_se)" stroke="#000" stroke-width="0.9"/>
<path d="M45.80 20.50L53.29 20.50L60.77 20.30L68.26 20.00L75.74 19.80L83.23 19.80L90.71 19.60L98.20 19.50L105.68 19.50L113.17 19.50L120.65 19.50L128.14 19.50L135.63 19.50L143.11 19.50L150.60 19.50L158.08 19.50L165.57 19.50L173.05 19.50L180.54 19.50L188.02 19.50L195.51 19.50L202.99 19.50L210.48 19.50L217.97 19.50L225.45 19.50L232.94 19.50L240.42 19.50L247.91 19.50L255.39 19.50L262.88 19.50L270.36 19.50L277.85 19.50L285.33 19.50L292.82 19.50L300.31 19.50L307.79 19.50L315.28 19.50L322.76 19.50L330.25 19.50L337.73 19.50L345.22 19.50L352.70 19.50L360.19 19.50L367.67 19.50L375.16 19.50L382.65 19.50L390.13 19.50L397.62 19.50L405.10 19.50L412.59 19.50L420.07 19.50L427.56 19.50L435.04 19.50L442.53 19.50L450.01 19.90L457.50 20.80L457.50 21.50L450.01 20.30L442.53 19.50L435.04 19.50L427.56 19.50L420.07 19.50L412.59 19.50L405.10 19.50L397.62 19.50L390.13 19.50L382.65 19.50L375.16 19.50L367.67 19.50L360.19 19.50L352.70 19.50L345.22 19.50L337.73 19.50L330.25 19.50L322.76 19.50L315.28 19.50L307.79 19.50L300.31 19.50L292.82 19.50L285.33 19.50L277.85 19.50L270.36 19.50L262.88 19.50L255.39 19.50L247.91 19.50L240.42 19.50L232.94 19.50L225.45 19.50L217.97 19.50L210.48 19.50L202.99 19.50L195.51 19.50L188.02 19.50L180.54 19.50L173.05 19.50L165.57 19.50L158.08 19.50L150.60 19.50L143.11 19.50L135.63 19.50L128.14 19.50L120.65 19.50L113.17 19.50L105.68 19.50L98.20 19.50L90.71 19.60L83.23 19.80L75.74 19.80L68.26 20.00L60.77 20.30L53.29 20.50L45.80 20.50Z" fill="#008000" stroke="none"/>
<path d="M45.80 20.50L53.29 20.50L60.77 20.30L68.26 20.00L75.74 19.80L83.23 19.80L90.71 19.60L98.20 19.50L105.68 19.50L113.17 19.50L120.65 19.50L128.14 19.50L135.63 19.50L143.11 19.50L150.60 19.50L158.08 19.50L165.57 19.50L173.05 19.50L180.54 19.50L188.02 19.50L195.51 19.50L202.99 19.50L210.48 19.50L217.97 19.50L225.45 19.50L232.94 19.50L240.42 19.50L247.91 19.50L255.39 19.50L262.88 19.50L270.36 19.50L277.85 19.50L285.33 19.50L292.82 19.50L300.31 19.50L307.79 19.50L315.28 19.50L322.76 19.50L330.25 19.50L337.73 19.50L345.22 19.50L352.70 19.50L360.19 19.50L367.67 19.50L375.16 19.50L382.65 19.50L390.13 19.50L397.62 19.50L405.10 19.50L412.59 19.50L420.07 19.50L427.56 19.50L435.04 19.50L442.53 19.50L450.01 19.90L457.50 20.80L457.50 21.50L450.01 20.30L442.53 19.50L435.04 19.50L427.56 19.50L420.07 19.50L412.59 19.50L405.10 19.50L397.62 19.50L390.13 19.50L382.65 19.50L375.16 19.50L367.67 19.50L360.19 19.50L352.70 19.50L345.22 19.50L337.73 19.50L330.25 19.50L322.76 19.50L315.28 19.50L307.79 19.50L300.31 19.50L292.82 19.50L285.33 19.50L277.85 19.50L270.36 19.50L262.88 19.50L255.39 19.50L247.91 19.50L240.42 19.50L232.94 19.50L225.45 19.50L217.97 19.50L210.48 19.50L202.99 19.50L195.51 19.50L188.02 19.50L180.54 19.50L173.05 19.50L165.57 19.50L158.08 19.50L150.60 19.50L143.11 19.50L135.63 19.50L128.14 19.50L120.65 19.50L113.17 19.50L105.68 19.50L98.20 19.50L90.71 19.60L83.23 19.80L75.74 19.80L68.26 20.00L60.77 20.30L53.29 20.50L45.80 20.50Z" fill="url(#h_so)" stroke="#000" stroke-width="0.9"/>
<path d="M45.80 20.50L53.29 20.50L60.77 20.30L68.26 20.00L75.74 19.80L83.23 19.80L90.71 19.60L98.20 19.50L105.68 19.50L113.17 19.50L120.65 19.50L128.14 19.50L135.63 19.50L143.11 19.50L150.60 19.50L158.08 19.50L165.57 19.50L173.05 19.50L180.54 19.50L188.02 19.50L195.51 19.50L202.99 19.50L210.48 19.50L217.97 19.50L225.45 19.50L232.94 19.50L240.42 19.50L247.91 19.50L255.39 19.50L262.88 19.50L270.36 19.50L277.85 19.50L285.33 19.50L292.82 19.50L300.31 19.50L307.79 19.50L315.28 19.50L322.76 19.50L330.25 19.50L337.73 19.50L345.22 19.50L352.70 19.50L360.19 19.50L367.67 19.50L375.16 19.50L382.65 19.50L390.13 19.50L397.62 19.50L405.10 19.50L412.59 19.50L420.07 19.50L427.56 19.50L435.04 19.50L442.53 19.50L450.01 19.90L457.50 20.80L457.50 20.80L450.01 19.90L442.53 19.50L435.04 19.50L427.56 19.50L420.07 19.50L412.59 19.50L405.10 19.50L397.62 19.50L390.13 19.50L382.65 19.50L375.16 19.50L367.67 19.50L360.19 19.50L352.70 19.50L345.22 19.50L337.73 19.50L330.25 19.50L322.76 19.50L315.28 19.50L307.79 19.50L300.31 19.50L292.82 19.50L285.33 19.50L277.85 19.50L270.36 19.50L262.88 19.50L255.39 19.50L247.91 19.50L240.42 19.50L232.94 19.50L225.45 19.50L217.97 19.50L210.48 19.50L202.99 19.50L195.51 19.50L188.02 19.50L180.54 19.50L173.05 19.50L165.57 19.50L158.08 19.50L150.60 19.50L143.11 19.50L135.63 19.50L128.14 19.50L120.65 19.50L113.17 19.50L105.68 19.50L98.20 19.50L90.71 19.60L83.23 19.80L75.74 19.80L68.26 20.00L60.77 20.30L53.29 20.50L45.80 20.50Z" fill="#bf00bf" stroke="none"/>
<path d="M45.80 20.50L53.29 20.50L60.77 20.30L68.26 20.00L75.74 19.80L83.23 19.80L90.71 19.60L98.20 19.50L105.68 19.50L113.17 19.50L120.65 19.50L128.14 19.50L135.63 19.50L143.11 19.50L150.60 19.50L158.08 19.50L165.57 19.50L173.05 19.50L180.54 19.50L188.02 19.50L195.51 19.50L202.99 19.50L210.48 19.50L217.97 19.50L225.45 19.50L232.94 19.50L240.42 19.50L247.91 19.50L255.39 19.50L262.88 19.50L270.36 19.50L277.85 19.50L285.33 19.50L292.82 19.50L300.31 19.50L307.79 19.50L315.28 19.50L322.76 19.50L330.25 19.50L337.73 19.50L345.22 19.50L352.70 19.50L360.19 19.50L367.67 19.50L375.16 19.50L382.65 19.50L390.13 19.50L397.62 19.50L405.10 19.50L412.59 19.50L420.07 19.50L427.56 19.50L435.04 19.50L442.53 19.50L450.01 19.90L457.50 20.80L457.50 20.80L450.01 19.90L442.53 19.50L435.04 19.50L427.56 19.50L420.07 19.50L412.59 19.50L405.10 19.50L397.62 19.50L390.13 19.50L382.65 19.50L375.16 19.50L367.67 19.50L360.19 19.50L352.70 19.50L345.22 19.50L337.73 19.50L330.25 19.50L322.76 19.50L315.28 19.50L307.79 19.50L300.31 19.50L292.82 19.50L285.33 19.50L277.85 19.50L270.36 19.50L262.88 19.50L255.39 19.50L247.91 19.50L240.42 19.50L232.94 19.50L225.45 19.50L217.97 19.50L210.48 19.50L202.99 19.50L195.51 19.50L188.02 19.50L180.54 19.50L173.05 19.50L165.57 19.50L158.08 19.50L150.60 19.50L143.11 19.50L135.63 19.50L128.14 19.50L120.65 19.50L113.17 19.50L105.68 19.50L98.20 19.50L90.71 19.60L83.23 19.80L75.74 19.80L68.26 20.00L60.77 20.30L53.29 20.50L45.80 20.50Z" fill="url(#h_xx)" stroke="#000" stroke-width="0.9"/>
<path d="M45.80 20.50L53.29 20.50L60.77 20.30L68.26 20.00L75.74 19.80L83.23 19.80L90.71 19.60L98.20 19.50L105.68 19.50L113.17 19.50L120.65 19.50L128.14 19.50L135.63 19.50L143.11 19.50L150.60 19.50L158.08 19.50L165.57 19.50L173.05 19.50L180.54 19.50L188.02 19.50L195.51 19.50L202.99 19.50L210.48 19.50L217.97 19.50L225.45 19.50L232.94 19.50L240.42 19.50L247.91 19.50L255.39 19.50L262.88 19.50L270.36 19.50L277.85 19.50L285.33 19.50L292.82 19.50L300.31 19.50L307.79 19.50L315.28 19.50L322.76 19.50L330.25 19.50L337.73 19.50L345.22 19.50L352.70 19.50L360.19 19.50L367.67 19.50L375.16 19.50L382.65 19.50L390.13 19.50L397.62 19.50L405.10 19.50L412.59 19.50L420.07 19.50L427.56 19.50L435.04 19.50L442.53 19.50L450.01 19.50L457.50 19.50L457.50 20.80L450.01 19.90L442.53 19.50L435.04 19.50L427.56 19.50L420.07 19.50L412.59 19.50L405.10 19.50L397.62 19.50L390.13 19.50L382.65 19.50L375.16 19.50L367.67 19.50L360.19 19.50L352.70 19.50L345.22 19.50L337.73 19.50L330.25 19.50L322.76 19.50L315.28 19.50L307.79 19.50L300.31 19.50L292.82 19.50L285.33 19.50L277.85 19.50L270.36 19.50L262.88 19.50L255.39 19.50L247.91 19.50L240.42 19.50L232.94 19.50L225.45 19.50L217.97 19.50L210.48 19.50L202.99 19.50L195.51 19.50L188.02 19.50L180.54 19.50L173.05 19.50L165.57 19.50L158.08 19.50L150.60 19.50L143.11 19.50L135.63 19.50L128.14 19.50L120.65 19.50L113.17 19.50L105.68 19.50L98.20 19.50L90.71 19.60L83.23 19.80L75.74 19.80L68.26 20.00L60.77 20.30L53.29 20.50L45.80 20.50Z" fill="#ff0000" stroke="none"/>
<path d="M45.80 20.50L53.29 20.50L60.77 20.30L68.26 20.00L75.74 19.80L83.23 19.80L90.71 19.60L98.20 19.50L105.68 19.50L113.17 19.50L120.65 19.50L128.14 19.50L135.63 19.50L143.11 19.50L150.60 19.50L158.08 19.50L165.57 19.50L173.05 19.50L180.54 19.50L188.02 19.50L195.51 19.50L202.99 19.50L210.48 19.50L217.97 19.50L225.45 19.50L232.94 19.50L240.42 19.50L247.91 19.50L255.39 19.50L262.88 19.50L270.36 19.50L277.85 19.50L285.33 19.50L292.82 19.50L300.31 19.50L307.79 19.50L315.28 19.50L322.76 19.50L330.25 19.50L337.73 19.50L345.22 19.50L352.70 19.50L360.19 19.50L367.67 19.50L375.16 19.50L382.65 19.50L390.13 19.50L397.62 19.50L405.10 19.50L412.59 19.50L420.07 19.50L427.56 19.50L435.04 19.50L442.53 19.50L450.01 19.50L457.50 19.50L457.50 20.80L450.01 19.90L442.53 19.50L435.04 19.50L427.56 19.50L420.07 19.50L412.59 19.50L405.10 19.50L397.62 19.50L390.13 19.50L382.65 19.50L375.16 19.50L367.67 19.50L360.19 19.50L352.70 19.50L345.22 19.50L337.73 19.50L330.25 19.50L322.76 19.50L315.28 19.50L307.79 19.50L300.31 19.50L292.82 19.50L285.33 19.50L277.85 19.50L270.36 19.50L262.88 19.50L255.39 19.50L247.91 19.50L240.42 19.50L232.94 19.50L225.45 19.50L217.97 19.50L210.48 19.50L202.99 19.50L195.51 19.50L188.02 19.50L180.54 19.50L173.05 19.50L165.57 19.50L158.08 19.50L150.60 19.50L143.11 19.50L135.63 19.50L128.14 19.50L120.65 19.50L113.17 19.50L105.68 19.50L98.20 19.50L90.71 19.60L83.23 19.80L75.74 19.80L68.26 20.00L60.77 20.30L53.29 20.50L45.80 20.50Z" fill="url(#h_lo)" stroke="#000" stroke-width="0.9"/>
<path d="M45.80 19.50L53.29 19.50L60.77 19.50L68.26 19.50L75.74 19.50L83.23 19.80L90.71 19.60L98.20 19.50L105.68 19.50L113.17 19.50L120.65 19.50L128.14 19.50L135.63 19.50L143.11 19.50L150.60 19.50L158.08 19.50L165.57 19.50L173.05 19.50L180.54 19.50L188.02 19.50L195.51 19.50L202.99 19.50L210.48 19.50L217.97 19.50L225.45 19.50L232.94 19.50L240.42 19.50L247.91 19.50L255.39 19.50L262.88 19.50L270.36 19.50L277.85 19.50L285.33 19.50L292.82 19.50L300.31 19.50L307.79 19.50L315.28 19.50L322.76 19.50L330.25 19.50L337.73 19.50L345.22 19.50L352.70 19.50L360.19 19.50L367.67 19.50L375.16 19.50L382.65 19.50L390.13 19.50L397.62 19.50L405.10 19.50L412.59 19.50L420.07 19.50L427.56 19.50L435.04 19.50L442.53 19.50L450.01 19.50L457.50 19.50L457.50 19.50L450.01 19.50L442.53 19.50L435.04 19.50L427.56 19.50L420.07 19.50L412.59 19.50L405.10 19.50L397.62 19.50L390.13 19.50L382.65 19.50L375.16 19.50L367.67 19.50L360.19 19.50L352.70 19.50L345.22 19.50L337.73 19.50L330.25 19.50L322.76 19.50L315.28 19.50L307.79 19.50L300.31 19.50L292.82 19.50L285.33 19.50L277.85 19.50L270.36 19.50L262.88 19.50L255.39 19.50L247.91 19.50L240.42 19.50L232.94 19.50L225.45 19.50L217.97 19.50L210.48 19.50L202.99 19.50L195.51 19.50L188.02 19.50L180.54 19.50L173.05 19.50L165.57 19.50L158.08 19.50L150.60 19.50L143.11 19.50L135.63 19.50L128.14 19.50L120.65 19.50L113.17 19.50L105.68 19.50L98.20 19.50L90.71 19.60L83.23 19.80L75.74 19.80L68.26 20.00L60.77 20.30L53.29 20.50L45.80 20.50Z" fill="#bfbf00" stroke="none"/>
<path d="M45.80 19.50L53.29 19.50L60.77 19.50L68.26 19.50L75.74 19.50L83.23 19.80L90.71 19.60L98.20 19.50L105.68 19.50L113.17 19.50L120.65 19.50L128.14 19.50L135.63 19.50L143.11 19.50L150.60 19.50L158.08 19.50L165.57 19.50L173.05 19.50L180.54 19.50L188.02 19.50L195.51 19.50L202.99 19.50L210.48 19.50L217.97 19.50L225.45 19.50L232.94 19.50L240.42 19.50L247.91 19.50L255.39 19.50L262.88 19.50L270.36 19.50L277.85 19.50L285.33 19.50L292.82 19.50L300.31 19.50L307.79 19.50L315.28 19.50L322.76 19.50L330.25 19.50L337.73 19.50L345.22 19.50L352.70 19.50L360.19 19.50L367.67 19.50L375.16 19.50L382.65 19.50L390.13 19.50L397.62 19.50L405.10 19.50L412.59 19.50L420.07 19.50L427.56 19.50L435.04 19.50L442.53 19.50L450.01 19.50L457.50 19.50L457.50 19.50L450.01 19.50L442.53 19.50L435.04 19.50L427.56 19.50L420.07 19.50L412.59 19.50L405.10 19.50L397.62 19.50L390.13 19.50L382.65 19.50L375.16 19.50L367.67 19.50L360.19 19.50L352.70 19.50L345.22 19.50L337.73 19.50L330.25 19.50L322.76 19.50L315.28 19.50L307.79 19.50L300.31 19.50L292.82 19.50L285.33 19.50L277.85 19.50L270.36 19.50L262.88 19.50L255.39 19.50L247.91 19.50L240.42 19.50L232.94 19.50L225.45 19.50L217.97 19.50L210.48 19.50L202.99 19.50L195.51 19.50L188.02 19.50L180.54 19.50L173.05 19.50L165.57 19.50L158.08 19.50L150.60 19.50L143.11 19.50L135.63 19.50L128.14 19.50L120.65 19.50L113.17 19.50L105.68 19.50L98.20 19.50L90.71 19.60L83.23 19.80L75.74 19.80L68.26 20.00L60.77 20.30L53.29 20.50L45.80 20.50Z" fill="url(#h_dt)" stroke="#000" stroke-width="0.9"/>
</g>
<path d="M45.80 369.20 v3 M60.77 369.20 v3 M75.74 369.20 v3 M90.71 369.20 v3 M105.68 369.20 v3 M120.65 369.20 v3 M135.63 369.20 v3 M150.60 369.20 v3 M165.57 369.20 v3 M180.54 369.20 v3 M195.51 369.20 v3 M210.48 369.20 v3 M225.45 369.20 v3 M240.42 369.20 v3 M255.39 369.20 v3 M270.36 369.20 v3 M285.33 369.20 v3 M300.31 369.20 v3 M315.28 369.20 v3 M330.25 369.20 v3 M345.22 369.20 v3 M360.19 369.20 v3 M375.16 369.20 v3 M390.13 369.20 v3 M405.10 369.20 v3 M420.07 369.20 v3 M435.04 369.20 v3 M450.01 369.20 v3 M45.80 369.20 h-3 M45.80 299.26 h-3 M45.80 229.32 h-3 M45.80 159.38 h-3 M45.80 89.44 h-3 M45.80 19.50 h-3" stroke="#000" stroke-width="0.7" fill="none"/>
<path d="M53.29 369.20 v1.4 M68.26 369.20 v1.4 M83.23 369.20 v1.4 M98.20 369.20 v1.4 M113.17 369.20 v1.4 M128.14 369.20 v1.4 M143.11 369.20 v1.4 M158.08 369.20 v1.4 M173.05 369.20 v1.4 M188.02 369.20 v1.4 M202.99 369.20 v1.4 M217.97 369.20 v1.4 M232.94 369.20 v1.4 M247.91 369.20 v1.4 M262.88 369.20 v1.4 M277.85 369.20 v1.4 M292.82 369.20 v1.4 M307.79 369.20 v1.4 M322.76 369.20 v1.4 M337.73 369.20 v1.4 M352.70 369.20 v1.4 M367.67 369.20 v1.4 M382.65 369.20 v1.4 M397.62 369.20 v1.4 M412.59 369.20 v1.4 M427.56 369.20 v1.4 M442.53 369.20 v1.4 M457.50 369.20 v1.4" stroke="#000" stroke-width="0.35" fill="none"/>
<text x="41.50" y="373.70" font-size="12" text-anchor="end">0</text>
<text x="41.50" y="303.76" font-size="12" text-anchor="end">100</text>
<text x="41.50" y="233.82" font-size="12" text-anchor="end">200</text>
<text x="41.50" y="163.88" font-size="12" text-anchor="end">300</text>
<text x="41.50" y="93.94" font-size="12" text-anchor="end">400</text>
<text x="41.50" y="24.00" font-size="12" text-anchor="end">500</text>
<text font-size="12" text-anchor="middle" transform="translate(46.60 389.70) rotate(-60)" dy="4.15">1993</text>
<text font-size="12" text-anchor="middle" transform="translate(61.57 389.70) rotate(-60)" dy="4.15">1994</text>
<text font-size="12" text-anchor="middle" transform="translate(76.54 389.70) rotate(-60)" dy="4.15">1995</text>
<text font-size="12" text-anchor="middle" transform="translate(91.51 389.70) rotate(-60)" dy="4.15">1996</text>
<text font-size="12" text-anchor="middle" transform="translate(106.48 389.70) rotate(-60)" dy="4.15">1997</text>
<text font-size="12" text-anchor="middle" transform="translate(121.45 389.70) rotate(-60)" dy="4.15">1998</text>
<text font-size="12" text-anchor="middle" transform="translate(136.43 389.70) rotate(-60)" dy="4.15">1999</text>
<text font-size="12" text-anchor="middle" transform="translate(151.40 389.70) rotate(-60)" dy="4.15">2000</text>
<text font-size="12" text-anchor="middle" transform="translate(166.37 389.70) rotate(-60)" dy="4.15">2001</text>
<text font-size="12" text-anchor="middle" transform="translate(181.34 389.70) rotate(-60)" dy="4.15">2002</text>
<text font-size="12" text-anchor="middle" transform="translate(196.31 389.70) rotate(-60)" dy="4.15">2003</text>
<text font-size="12" text-anchor="middle" transform="translate(211.28 389.70) rotate(-60)" dy="4.15">2004</text>
<text font-size="12" text-anchor="middle" transform="translate(226.25 389.70) rotate(-60)" dy="4.15">2005</text>
<text font-size="12" text-anchor="middle" transform="translate(241.22 389.70) rotate(-60)" dy="4.15">2006</text>
<text font-size="12" text-anchor="middle" transform="translate(256.19 389.70) rotate(-60)" dy="4.15">2007</text>
<text font-size="12" text-anchor="middle" transform="translate(271.16 389.70) rotate(-60)" dy="4.15">2008</text>
<text font-size="12" text-anchor="middle" transform="translate(286.13 389.70) rotate(-60)" dy="4.15">2009</text>
<text font-size="12" text-anchor="middle" transform="translate(301.11 389.70) rotate(-60)" dy="4.15">2010</text>
<text font-size="12" text-anchor="middle" transform="translate(316.08 389.70) rotate(-60)" dy="4.15">2011</text>
<text font-size="12" text-anchor="middle" transform="translate(331.05 389.70) rotate(-60)" dy="4.15">2012</text>
<text font-size="12" text-anchor="middle" transform="translate(346.02 389.70) rotate(-60)" dy="4.15">2013</text>
<text font-size="12" text-anchor="middle" transform="translate(360.99 389.70) rotate(-60)" dy="4.15">2014</text>
<text font-size="12" text-anchor="middle" transform="translate(375.96 389.70) rotate(-60)" dy="4.15">2015</text>
<text font-size="12" text-anchor="middle" transform="translate(390.93 389.70) rotate(-60)" dy="4.15">2016</text>
<text font-size="12" text-anchor="middle" transform="translate(405.90 389.70) rotate(-60)" dy="4.15">2017</text>
<text font-size="12" text-anchor="middle" transform="translate(420.87 389.70) rotate(-60)" dy="4.15">2018</text>
<text font-size="12" text-anchor="middle" transform="translate(435.84 389.70) rotate(-60)" dy="4.15">2019</text>
<text font-size="12" text-anchor="middle" transform="translate(450.81 389.70) rotate(-60)" dy="4.15">2020</text>
<text x="251.00" y="14.90" font-size="14.6" text-anchor="middle">TOP500 Supercomputers by Processor Family</text>
<text x="251.05" y="417.50" font-size="12" text-anchor="middle">TOP500 Date</text>
<text font-size="12" text-anchor="middle" transform="translate(13.20 194.35) rotate(-90)">Number of systems</text>
<rect x="469.50" y="23.50" width="126.30" height="381.60" rx="1.6" fill="#fff" stroke="#ccc" stroke-width="0.8"/>
<rect x="473.0" y="26.70" width="33.3" height="7.6" fill="#0000ff"/>
<rect x="473.0" y="26.70" width="33.3" height="7.6" fill="url(#h_ne)" stroke="#000" stroke-width="0.9"/>
<text x="513.2" y="33.60" font-size="8.5">x86-64 (Intel)</text>
<rect x="473.0" y="39.35" width="33.3" height="7.6" fill="#00bfbf"/>
<rect x="473.0" y="39.35" width="33.3" height="7.6" fill="url(#h_ne)" stroke="#000" stroke-width="0.9"/>
<text x="513.2" y="46.25" font-size="8.5">x86-64 (AMD)</text>
<rect x="473.0" y="52.00" width="33.3" height="7.6" fill="#008000"/>
<rect x="473.0" y="52.00" width="33.3" height="7.6" fill="url(#h_st)" stroke="#000" stroke-width="0.9"/>
<text x="513.2" y="58.90" font-size="8.5">POWER</text>
<rect x="473.0" y="64.65" width="33.3" height="7.6" fill="#bf00bf"/>
<rect x="473.0" y="64.65" width="33.3" height="7.6" fill="url(#h_se)" stroke="#000" stroke-width="0.9"/>
<text x="513.2" y="71.55" font-size="8.5">x86-32 (Intel)</text>
<rect x="473.0" y="77.30" width="33.3" height="7.6" fill="#ff0000"/>
<rect x="473.0" y="77.30" width="33.3" height="7.6" fill="url(#h_se)" stroke="#000" stroke-width="0.9"/>
<text x="513.2" y="84.20" font-size="8.5">x86-32 (AMD)</text>
<rect x="473.0" y="89.95" width="33.3" height="7.6" fill="#bfbf00"/>
<rect x="473.0" y="89.95" width="33.3" height="7.6" fill="url(#h_so)" stroke="#000" stroke-width="0.9"/>
<text x="513.2" y="96.85" font-size="8.5">MIPS</text>
<rect x="473.0" y="102.60" width="33.3" height="7.6" fill="#0000ff"/>
<rect x="473.0" y="102.60" width="33.3" height="7.6" fill="url(#h_xx)" stroke="#000" stroke-width="0.9"/>
<text x="513.2" y="109.50" font-size="8.5">Sparc</text>
<rect x="473.0" y="115.25" width="33.3" height="7.6" fill="#00bfbf"/>
<rect x="473.0" y="115.25" width="33.3" height="7.6" fill="url(#h_lo)" stroke="#000" stroke-width="0.9"/>
<text x="513.2" y="122.15" font-size="8.5">PA-RISC</text>
<rect x="473.0" y="127.90" width="33.3" height="7.6" fill="#008000"/>
<rect x="473.0" y="127.90" width="33.3" height="7.6" fill="url(#h_dt)" stroke="#000" stroke-width="0.9"/>
<text x="513.2" y="134.80" font-size="8.5">Cray</text>
<rect x="473.0" y="140.55" width="33.3" height="7.6" fill="#bf00bf"/>
<rect x="473.0" y="140.55" width="33.3" height="7.6" fill="url(#h_ne)" stroke="#000" stroke-width="0.9"/>
<text x="513.2" y="147.45" font-size="8.5">Alpha</text>
<rect x="473.0" y="153.20" width="33.3" height="7.6" fill="#ff0000"/>
<rect x="473.0" y="153.20" width="33.3" height="7.6" fill="url(#h_st)" stroke="#000" stroke-width="0.9"/>
<text x="513.2" y="160.10" font-size="8.5">Fujitsu</text>
<rect x="473.0" y="165.85" width="33.3" height="7.6" fill="#bfbf00"/>
<rect x="473.0" y="165.85" width="33.3" height="7.6" fill="url(#h_se)" stroke="#000" stroke-width="0.9"/>
<text x="513.2" y="172.75" font-size="8.5">NEC</text>
<rect x="473.0" y="178.50" width="33.3" height="7.6" fill="#0000ff"/>
<rect x="473.0" y="178.50" width="33.3" height="7.6" fill="url(#h_so)" stroke="#000" stroke-width="0.9"/>
<text x="513.2" y="185.40" font-size="8.5">Itanium (Intel)</text>
<rect x="473.0" y="191.15" width="33.3" height="7.6" fill="#00bfbf"/>
<rect x="473.0" y="191.15" width="33.3" height="7.6" fill="url(#h_xx)" stroke="#000" stroke-width="0.9"/>
<text x="513.2" y="198.05" font-size="8.5">Intel i860</text>
<rect x="473.0" y="203.80" width="33.3" height="7.6" fill="#008000"/>
<rect x="473.0" y="203.80" width="33.3" height="7.6" fill="url(#h_lo)" stroke="#000" stroke-width="0.9"/>
<text x="513.2" y="210.70" font-size="8.5">Hitachi</text>
<rect x="473.0" y="216.45" width="33.3" height="7.6" fill="#bf00bf"/>
<rect x="473.0" y="216.45" width="33.3" height="7.6" fill="url(#h_dt)" stroke="#000" stroke-width="0.9"/>
<text x="513.2" y="223.35" font-size="8.5">Xeon Phi (Intel)</text>
<rect x="473.0" y="229.10" width="33.3" height="7.6" fill="#ff0000"/>
<rect x="473.0" y="229.10" width="33.3" height="7.6" fill="url(#h_ne)" stroke="#000" stroke-width="0.9"/>
<text x="513.2" y="236.00" font-size="8.5">Hitachi SR8000</text>
<rect x="473.0" y="241.75" width="33.3" height="7.6" fill="#bfbf00"/>
<rect x="473.0" y="241.75" width="33.3" height="7.6" fill="url(#h_st)" stroke="#000" stroke-width="0.9"/>
<text x="513.2" y="248.65" font-size="8.5">KSR</text>
<rect x="473.0" y="254.40" width="33.3" height="7.6" fill="#0000ff"/>
<rect x="473.0" y="254.40" width="33.3" height="7.6" fill="url(#h_se)" stroke="#000" stroke-width="0.9"/>
<text x="513.2" y="261.30" font-size="8.5">TMC CM2</text>
<rect x="473.0" y="267.05" width="33.3" height="7.6" fill="#00bfbf"/>
<rect x="473.0" y="267.05" width="33.3" height="7.6" fill="url(#h_so)" stroke="#000" stroke-width="0.9"/>
<text x="513.2" y="273.95" font-size="8.5">Convex</text>
<rect x="473.0" y="279.70" width="33.3" height="7.6" fill="#008000"/>
<rect x="473.0" y="279.70" width="33.3" height="7.6" fill="url(#h_xx)" stroke="#000" stroke-width="0.9"/>
<text x="513.2" y="286.60" font-size="8.5">Maspar</text>
<rect x="473.0" y="292.35" width="33.3" height="7.6" fill="#bf00bf"/>
<rect x="473.0" y="292.35" width="33.3" height="7.6" fill="url(#h_lo)" stroke="#000" stroke-width="0.9"/>
<text x="513.2" y="299.25" font-size="8.5">Others</text>
<rect x="473.0" y="305.00" width="33.3" height="7.6" fill="#ff0000"/>
<rect x="473.0" y="305.00" width="33.3" height="7.6" fill="url(#h_dt)" stroke="#000" stroke-width="0.9"/>
<text x="513.2" y="311.90" font-size="8.5">IBM3090</text>
<rect x="473.0" y="317.65" width="33.3" height="7.6" fill="#bfbf00"/>
<rect x="473.0" y="317.65" width="33.3" height="7.6" fill="url(#h_ne)" stroke="#000" stroke-width="0.9"/>
<text x="513.2" y="324.55" font-size="8.5">nCube</text>
<rect x="473.0" y="330.30" width="33.3" height="7.6" fill="#0000ff"/>
<rect x="473.0" y="330.30" width="33.3" height="7.6" fill="url(#h_st)" stroke="#000" stroke-width="0.9"/>
<text x="513.2" y="337.20" font-size="8.5">ShenWei</text>
<rect x="473.0" y="342.95" width="33.3" height="7.6" fill="#00bfbf"/>
<rect x="473.0" y="342.95" width="33.3" height="7.6" fill="url(#h_se)" stroke="#000" stroke-width="0.9"/>
<text x="513.2" y="349.85" font-size="8.5">Fujitsu ARM</text>
<rect x="473.0" y="355.60" width="33.3" height="7.6" fill="#008000"/>
<rect x="473.0" y="355.60" width="33.3" height="7.6" fill="url(#h_so)" stroke="#000" stroke-width="0.9"/>
<text x="513.2" y="362.50" font-size="8.5">ThunderX2</text>
<rect x="473.0" y="368.25" width="33.3" height="7.6" fill="#bf00bf"/>
<rect x="473.0" y="368.25" width="33.3" height="7.6" fill="url(#h_xx)" stroke="#000" stroke-width="0.9"/>
<text x="513.2" y="375.15" font-size="8.5">Cavium</text>
<rect x="473.0" y="380.90" width="33.3" height="7.6" fill="#ff0000"/>
<rect x="473.0" y="380.90" width="33.3" height="7.6" fill="url(#h_lo)" stroke="#000" stroke-width="0.9"/>
<text x="513.2" y="387.80" font-size="8.5">NEC Vector Engine</text>
<rect x="473.0" y="393.55" width="33.3" height="7.6" fill="#bfbf00"/>
<rect x="473.0" y="393.55" width="33.3" height="7.6" fill="url(#h_dt)" stroke="#000" stroke-width="0.9"/>
<text x="513.2" y="400.45" font-size="8.5">ap1000</text>
</svg></body></html>
